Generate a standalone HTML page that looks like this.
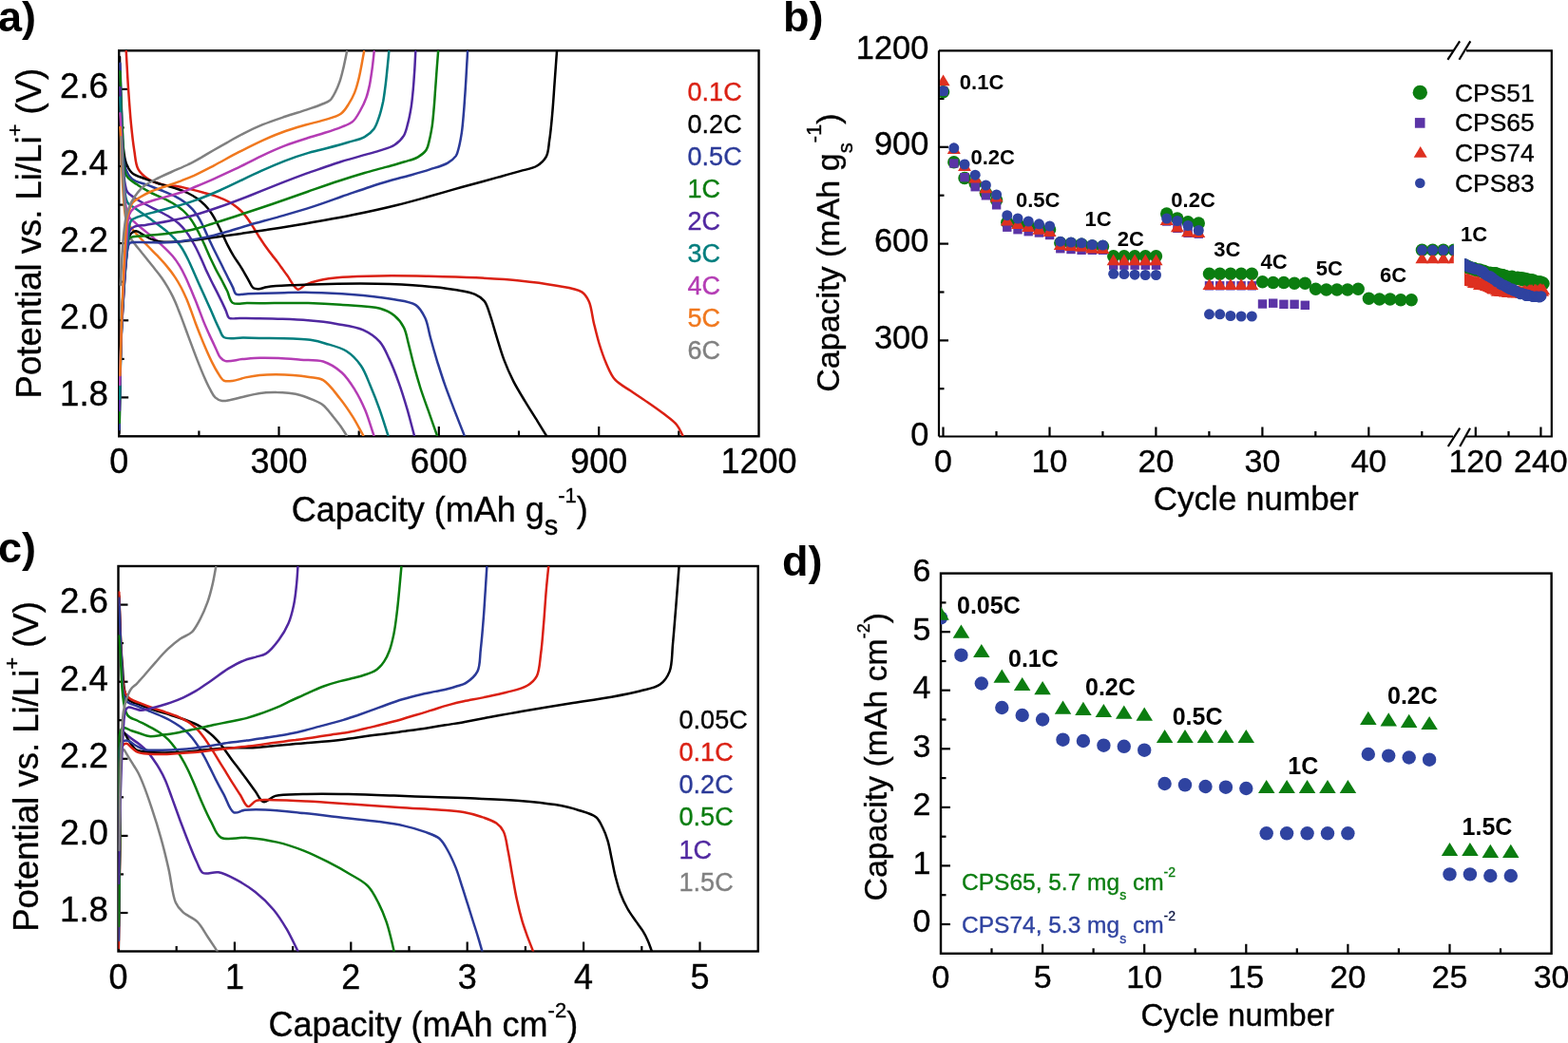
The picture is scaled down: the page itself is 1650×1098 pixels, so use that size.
<!DOCTYPE html><html><head><meta charset="utf-8"><style>html,body{margin:0;padding:0;background:#fff;overflow:hidden}svg{display:block}</style></head><body><svg width="1650" height="1098" viewBox="0 0 1650 1098" style="font-family:'Liberation Sans',Arial,sans-serif">
<rect width="1650" height="1098" fill="#fff"/>
<text x="-2.0" y="32.5" font-size="45" text-anchor="start" font-weight="bold" fill="#000">a)</text>
<text x="824.0" y="32.5" font-size="45" text-anchor="start" font-weight="bold" fill="#000">b)</text>
<text x="-2.0" y="592.0" font-size="45" text-anchor="start" font-weight="bold" fill="#000">c)</text>
<text x="823.0" y="605.5" font-size="45" text-anchor="start" font-weight="bold" fill="#000">d)</text>
<text x="125.2" y="498.0" font-size="36" text-anchor="middle" font-weight="normal" fill="#000" stroke="#000" stroke-width="0.35">0</text>
<line x1="293.5" y1="459.0" x2="293.5" y2="449.0" stroke="#000" stroke-width="2.2"/>
<text x="293.5" y="498.0" font-size="36" text-anchor="middle" font-weight="normal" fill="#000" stroke="#000" stroke-width="0.35">300</text>
<line x1="461.8" y1="459.0" x2="461.8" y2="449.0" stroke="#000" stroke-width="2.2"/>
<text x="461.8" y="498.0" font-size="36" text-anchor="middle" font-weight="normal" fill="#000" stroke="#000" stroke-width="0.35">600</text>
<line x1="630.2" y1="459.0" x2="630.2" y2="449.0" stroke="#000" stroke-width="2.2"/>
<text x="630.2" y="498.0" font-size="36" text-anchor="middle" font-weight="normal" fill="#000" stroke="#000" stroke-width="0.35">900</text>
<text x="798.5" y="498.0" font-size="36" text-anchor="middle" font-weight="normal" fill="#000" stroke="#000" stroke-width="0.35">1200</text>
<line x1="209.4" y1="459.0" x2="209.4" y2="453.5" stroke="#000" stroke-width="2.2"/>
<line x1="377.7" y1="459.0" x2="377.7" y2="453.5" stroke="#000" stroke-width="2.2"/>
<line x1="546.0" y1="459.0" x2="546.0" y2="453.5" stroke="#000" stroke-width="2.2"/>
<line x1="714.3" y1="459.0" x2="714.3" y2="453.5" stroke="#000" stroke-width="2.2"/>
<line x1="125.2" y1="93.9" x2="135.2" y2="93.9" stroke="#000" stroke-width="2.2"/>
<text x="114.0" y="102.7" font-size="36.7" text-anchor="end" font-weight="normal" fill="#000" stroke="#000" stroke-width="0.35">2.6</text>
<line x1="125.2" y1="175.0" x2="135.2" y2="175.0" stroke="#000" stroke-width="2.2"/>
<text x="114.0" y="183.8" font-size="36.7" text-anchor="end" font-weight="normal" fill="#000" stroke="#000" stroke-width="0.35">2.4</text>
<line x1="125.2" y1="256.1" x2="135.2" y2="256.1" stroke="#000" stroke-width="2.2"/>
<text x="114.0" y="264.9" font-size="36.7" text-anchor="end" font-weight="normal" fill="#000" stroke="#000" stroke-width="0.35">2.2</text>
<line x1="125.2" y1="337.3" x2="135.2" y2="337.3" stroke="#000" stroke-width="2.2"/>
<text x="114.0" y="346.1" font-size="36.7" text-anchor="end" font-weight="normal" fill="#000" stroke="#000" stroke-width="0.35">2.0</text>
<line x1="125.2" y1="418.4" x2="135.2" y2="418.4" stroke="#000" stroke-width="2.2"/>
<text x="114.0" y="427.2" font-size="36.7" text-anchor="end" font-weight="normal" fill="#000" stroke="#000" stroke-width="0.35">1.8</text>
<line x1="125.2" y1="134.4" x2="130.7" y2="134.4" stroke="#000" stroke-width="2.2"/>
<line x1="125.2" y1="215.6" x2="130.7" y2="215.6" stroke="#000" stroke-width="2.2"/>
<line x1="125.2" y1="296.7" x2="130.7" y2="296.7" stroke="#000" stroke-width="2.2"/>
<line x1="125.2" y1="377.9" x2="130.7" y2="377.9" stroke="#000" stroke-width="2.2"/>
<text x="124.5" y="1041.0" font-size="36" text-anchor="middle" font-weight="normal" fill="#000" stroke="#000" stroke-width="0.35">0</text>
<line x1="246.9" y1="1001.5" x2="246.9" y2="991.5" stroke="#000" stroke-width="2.2"/>
<text x="246.9" y="1041.0" font-size="36" text-anchor="middle" font-weight="normal" fill="#000" stroke="#000" stroke-width="0.35">1</text>
<line x1="369.3" y1="1001.5" x2="369.3" y2="991.5" stroke="#000" stroke-width="2.2"/>
<text x="369.3" y="1041.0" font-size="36" text-anchor="middle" font-weight="normal" fill="#000" stroke="#000" stroke-width="0.35">2</text>
<line x1="491.7" y1="1001.5" x2="491.7" y2="991.5" stroke="#000" stroke-width="2.2"/>
<text x="491.7" y="1041.0" font-size="36" text-anchor="middle" font-weight="normal" fill="#000" stroke="#000" stroke-width="0.35">3</text>
<line x1="614.1" y1="1001.5" x2="614.1" y2="991.5" stroke="#000" stroke-width="2.2"/>
<text x="614.1" y="1041.0" font-size="36" text-anchor="middle" font-weight="normal" fill="#000" stroke="#000" stroke-width="0.35">4</text>
<line x1="736.5" y1="1001.5" x2="736.5" y2="991.5" stroke="#000" stroke-width="2.2"/>
<text x="736.5" y="1041.0" font-size="36" text-anchor="middle" font-weight="normal" fill="#000" stroke="#000" stroke-width="0.35">5</text>
<line x1="185.7" y1="1001.5" x2="185.7" y2="996.0" stroke="#000" stroke-width="2.2"/>
<line x1="308.1" y1="1001.5" x2="308.1" y2="996.0" stroke="#000" stroke-width="2.2"/>
<line x1="430.5" y1="1001.5" x2="430.5" y2="996.0" stroke="#000" stroke-width="2.2"/>
<line x1="552.9" y1="1001.5" x2="552.9" y2="996.0" stroke="#000" stroke-width="2.2"/>
<line x1="675.3" y1="1001.5" x2="675.3" y2="996.0" stroke="#000" stroke-width="2.2"/>
<line x1="124.5" y1="636.6" x2="134.5" y2="636.6" stroke="#000" stroke-width="2.2"/>
<text x="114.0" y="645.4" font-size="36.7" text-anchor="end" font-weight="normal" fill="#000" stroke="#000" stroke-width="0.35">2.6</text>
<line x1="124.5" y1="717.7" x2="134.5" y2="717.7" stroke="#000" stroke-width="2.2"/>
<text x="114.0" y="726.5" font-size="36.7" text-anchor="end" font-weight="normal" fill="#000" stroke="#000" stroke-width="0.35">2.4</text>
<line x1="124.5" y1="798.8" x2="134.5" y2="798.8" stroke="#000" stroke-width="2.2"/>
<text x="114.0" y="807.5" font-size="36.7" text-anchor="end" font-weight="normal" fill="#000" stroke="#000" stroke-width="0.35">2.2</text>
<line x1="124.5" y1="879.9" x2="134.5" y2="879.9" stroke="#000" stroke-width="2.2"/>
<text x="114.0" y="888.6" font-size="36.7" text-anchor="end" font-weight="normal" fill="#000" stroke="#000" stroke-width="0.35">2.0</text>
<line x1="124.5" y1="961.0" x2="134.5" y2="961.0" stroke="#000" stroke-width="2.2"/>
<text x="114.0" y="969.8" font-size="36.7" text-anchor="end" font-weight="normal" fill="#000" stroke="#000" stroke-width="0.35">1.8</text>
<line x1="124.5" y1="677.1" x2="130.0" y2="677.1" stroke="#000" stroke-width="2.2"/>
<line x1="124.5" y1="758.2" x2="130.0" y2="758.2" stroke="#000" stroke-width="2.2"/>
<line x1="124.5" y1="839.3" x2="130.0" y2="839.3" stroke="#000" stroke-width="2.2"/>
<line x1="124.5" y1="920.4" x2="130.0" y2="920.4" stroke="#000" stroke-width="2.2"/>
<line x1="992.5" y1="459.5" x2="992.5" y2="449.5" stroke="#000" stroke-width="2.2"/>
<text x="992.5" y="497.0" font-size="34" text-anchor="middle" font-weight="normal" fill="#000" stroke="#000" stroke-width="0.35">0</text>
<line x1="1104.5" y1="459.5" x2="1104.5" y2="449.5" stroke="#000" stroke-width="2.2"/>
<text x="1104.5" y="497.0" font-size="34" text-anchor="middle" font-weight="normal" fill="#000" stroke="#000" stroke-width="0.35">10</text>
<line x1="1216.4" y1="459.5" x2="1216.4" y2="449.5" stroke="#000" stroke-width="2.2"/>
<text x="1216.4" y="497.0" font-size="34" text-anchor="middle" font-weight="normal" fill="#000" stroke="#000" stroke-width="0.35">20</text>
<line x1="1328.4" y1="459.5" x2="1328.4" y2="449.5" stroke="#000" stroke-width="2.2"/>
<text x="1328.4" y="497.0" font-size="34" text-anchor="middle" font-weight="normal" fill="#000" stroke="#000" stroke-width="0.35">30</text>
<line x1="1440.3" y1="459.5" x2="1440.3" y2="449.5" stroke="#000" stroke-width="2.2"/>
<text x="1440.3" y="497.0" font-size="34" text-anchor="middle" font-weight="normal" fill="#000" stroke="#000" stroke-width="0.35">40</text>
<line x1="1048.5" y1="459.5" x2="1048.5" y2="454.0" stroke="#000" stroke-width="2.2"/>
<line x1="1160.4" y1="459.5" x2="1160.4" y2="454.0" stroke="#000" stroke-width="2.2"/>
<line x1="1272.4" y1="459.5" x2="1272.4" y2="454.0" stroke="#000" stroke-width="2.2"/>
<line x1="1384.3" y1="459.5" x2="1384.3" y2="454.0" stroke="#000" stroke-width="2.2"/>
<line x1="1496.3" y1="459.5" x2="1496.3" y2="454.0" stroke="#000" stroke-width="2.2"/>
<text x="977.3" y="61.5" font-size="34.4" text-anchor="end" font-weight="normal" fill="#000" stroke="#000" stroke-width="0.35">1200</text>
<line x1="988.0" y1="154.8" x2="998.0" y2="154.8" stroke="#000" stroke-width="2.2"/>
<text x="977.3" y="163.2" font-size="34.4" text-anchor="end" font-weight="normal" fill="#000" stroke="#000" stroke-width="0.35">900</text>
<line x1="988.0" y1="256.6" x2="998.0" y2="256.6" stroke="#000" stroke-width="2.2"/>
<text x="977.3" y="265.0" font-size="34.4" text-anchor="end" font-weight="normal" fill="#000" stroke="#000" stroke-width="0.35">600</text>
<line x1="988.0" y1="358.4" x2="998.0" y2="358.4" stroke="#000" stroke-width="2.2"/>
<text x="977.3" y="366.8" font-size="34.4" text-anchor="end" font-weight="normal" fill="#000" stroke="#000" stroke-width="0.35">300</text>
<text x="977.3" y="468.5" font-size="34.4" text-anchor="end" font-weight="normal" fill="#000" stroke="#000" stroke-width="0.35">0</text>
<line x1="988.0" y1="409.2" x2="993.5" y2="409.2" stroke="#000" stroke-width="2.2"/>
<line x1="988.0" y1="307.5" x2="993.5" y2="307.5" stroke="#000" stroke-width="2.2"/>
<line x1="988.0" y1="205.7" x2="993.5" y2="205.7" stroke="#000" stroke-width="2.2"/>
<line x1="988.0" y1="104.0" x2="993.5" y2="104.0" stroke="#000" stroke-width="2.2"/>
<text x="990.0" y="1039.7" font-size="34" text-anchor="middle" font-weight="normal" fill="#000" stroke="#000" stroke-width="0.35">0</text>
<line x1="1097.1" y1="1003.8" x2="1097.1" y2="993.8" stroke="#000" stroke-width="2.2"/>
<text x="1097.1" y="1039.7" font-size="34" text-anchor="middle" font-weight="normal" fill="#000" stroke="#000" stroke-width="0.35">5</text>
<line x1="1204.2" y1="1003.8" x2="1204.2" y2="993.8" stroke="#000" stroke-width="2.2"/>
<text x="1204.2" y="1039.7" font-size="34" text-anchor="middle" font-weight="normal" fill="#000" stroke="#000" stroke-width="0.35">10</text>
<line x1="1311.3" y1="1003.8" x2="1311.3" y2="993.8" stroke="#000" stroke-width="2.2"/>
<text x="1311.3" y="1039.7" font-size="34" text-anchor="middle" font-weight="normal" fill="#000" stroke="#000" stroke-width="0.35">15</text>
<line x1="1418.4" y1="1003.8" x2="1418.4" y2="993.8" stroke="#000" stroke-width="2.2"/>
<text x="1418.4" y="1039.7" font-size="34" text-anchor="middle" font-weight="normal" fill="#000" stroke="#000" stroke-width="0.35">20</text>
<line x1="1525.5" y1="1003.8" x2="1525.5" y2="993.8" stroke="#000" stroke-width="2.2"/>
<text x="1525.5" y="1039.7" font-size="34" text-anchor="middle" font-weight="normal" fill="#000" stroke="#000" stroke-width="0.35">25</text>
<text x="1632.6" y="1039.7" font-size="34" text-anchor="middle" font-weight="normal" fill="#000" stroke="#000" stroke-width="0.35">30</text>
<line x1="1043.5" y1="1003.8" x2="1043.5" y2="998.3" stroke="#000" stroke-width="2.2"/>
<line x1="1150.6" y1="1003.8" x2="1150.6" y2="998.3" stroke="#000" stroke-width="2.2"/>
<line x1="1257.7" y1="1003.8" x2="1257.7" y2="998.3" stroke="#000" stroke-width="2.2"/>
<line x1="1364.8" y1="1003.8" x2="1364.8" y2="998.3" stroke="#000" stroke-width="2.2"/>
<line x1="1471.9" y1="1003.8" x2="1471.9" y2="998.3" stroke="#000" stroke-width="2.2"/>
<line x1="1579.0" y1="1003.8" x2="1579.0" y2="998.3" stroke="#000" stroke-width="2.2"/>
<text x="979.5" y="611.9" font-size="34" text-anchor="end" font-weight="normal" fill="#000" stroke="#000" stroke-width="0.35">6</text>
<line x1="990.0" y1="665.2" x2="1000.0" y2="665.2" stroke="#000" stroke-width="2.2"/>
<text x="979.5" y="673.5" font-size="34" text-anchor="end" font-weight="normal" fill="#000" stroke="#000" stroke-width="0.35">5</text>
<line x1="990.0" y1="726.7" x2="1000.0" y2="726.7" stroke="#000" stroke-width="2.2"/>
<text x="979.5" y="735.0" font-size="34" text-anchor="end" font-weight="normal" fill="#000" stroke="#000" stroke-width="0.35">4</text>
<line x1="990.0" y1="788.3" x2="1000.0" y2="788.3" stroke="#000" stroke-width="2.2"/>
<text x="979.5" y="796.6" font-size="34" text-anchor="end" font-weight="normal" fill="#000" stroke="#000" stroke-width="0.35">3</text>
<line x1="990.0" y1="849.9" x2="1000.0" y2="849.9" stroke="#000" stroke-width="2.2"/>
<text x="979.5" y="858.2" font-size="34" text-anchor="end" font-weight="normal" fill="#000" stroke="#000" stroke-width="0.35">2</text>
<line x1="990.0" y1="911.4" x2="1000.0" y2="911.4" stroke="#000" stroke-width="2.2"/>
<text x="979.5" y="919.7" font-size="34" text-anchor="end" font-weight="normal" fill="#000" stroke="#000" stroke-width="0.35">1</text>
<line x1="990.0" y1="973.0" x2="1000.0" y2="973.0" stroke="#000" stroke-width="2.2"/>
<text x="979.5" y="981.3" font-size="34" text-anchor="end" font-weight="normal" fill="#000" stroke="#000" stroke-width="0.35">0</text>
<line x1="990.0" y1="634.4" x2="995.5" y2="634.4" stroke="#000" stroke-width="2.2"/>
<line x1="990.0" y1="696.0" x2="995.5" y2="696.0" stroke="#000" stroke-width="2.2"/>
<line x1="990.0" y1="757.5" x2="995.5" y2="757.5" stroke="#000" stroke-width="2.2"/>
<line x1="990.0" y1="819.1" x2="995.5" y2="819.1" stroke="#000" stroke-width="2.2"/>
<line x1="990.0" y1="880.7" x2="995.5" y2="880.7" stroke="#000" stroke-width="2.2"/>
<line x1="990.0" y1="942.2" x2="995.5" y2="942.2" stroke="#000" stroke-width="2.2"/>
<rect x="125.2" y="53.3" width="673.3" height="406.0" fill="none" stroke="#000" stroke-width="2.4"/>
<rect x="124.5" y="596.0" width="673.2" height="405.5" fill="none" stroke="#000" stroke-width="2.4"/>
<rect x="990.0" y="603.6" width="642.6" height="400.2" fill="none" stroke="#000" stroke-width="2.4"/>
<path d="M988,53.3 H1529 M1543,53.3 H1632.8 V459.5 H1543 M1529,459.5 H988 Z" fill="none" stroke="#000" stroke-width="2.2"/>
<path d="M988,53.3 V459.5" stroke="#000" stroke-width="2.2"/>
<line x1="1523.4" y1="62.8" x2="1536.1" y2="43.4" stroke="#000" stroke-width="2.2"/>
<line x1="1535.5" y1="62.8" x2="1547.3" y2="43.4" stroke="#000" stroke-width="2.2"/>
<line x1="1523.8" y1="470.0" x2="1536.2" y2="450.7" stroke="#000" stroke-width="2.2"/>
<line x1="1536.2" y1="470.0" x2="1547.0" y2="450.7" stroke="#000" stroke-width="2.2"/>
<line x1="1552.8" y1="459.5" x2="1552.8" y2="449.5" stroke="#000" stroke-width="2.2"/>
<text x="1552.8" y="497.0" font-size="34" text-anchor="middle" font-weight="normal" fill="#000" stroke="#000" stroke-width="0.35">120</text>
<line x1="1621.4" y1="459.5" x2="1621.4" y2="449.5" stroke="#000" stroke-width="2.2"/>
<text x="1621.4" y="497.0" font-size="34" text-anchor="middle" font-weight="normal" fill="#000" stroke="#000" stroke-width="0.35">240</text>
<line x1="1587.5" y1="459.5" x2="1587.5" y2="454.0" stroke="#000" stroke-width="2.2"/>
<text x="306.7" y="549.0" font-size="36" text-anchor="start" font-weight="normal" fill="#000" stroke="#000" stroke-width="0.35">Capacity (mAh g<tspan dy="14" font-size="29">s</tspan><tspan dy="-34.3" font-size="22">-1</tspan><tspan dy="20.3">)</tspan></text>
<text x="1321.8" y="537.0" font-size="35" text-anchor="middle" font-weight="normal" fill="#000" stroke="#000" stroke-width="0.35">Cycle number</text>
<text x="282.5" y="1090.7" font-size="36" text-anchor="start" font-weight="normal" fill="#000" stroke="#000" stroke-width="0.35">Capacity (mAh cm<tspan dy="-20" font-size="22">-2</tspan><tspan dy="20">)</tspan></text>
<text x="1302.2" y="1080.4" font-size="33" text-anchor="middle" font-weight="normal" fill="#000" stroke="#000" stroke-width="0.35">Cycle number</text>
<text transform="translate(42.8,419.4) rotate(-90)" font-size="36.5" stroke="#000" stroke-width="0.35">Potential vs. Li/Li<tspan dy="-20" font-size="22">+</tspan><tspan dy="20"> (V)</tspan></text>
<text transform="translate(39.6,980.8) rotate(-90)" font-size="36.5" stroke="#000" stroke-width="0.35">Potential vs. Li/Li<tspan dy="-20" font-size="22">+</tspan><tspan dy="20"> (V)</tspan></text>
<text transform="translate(883.3,412.7) rotate(-90)" font-size="34" stroke="#000" stroke-width="0.35">Capacity (mAh g<tspan dy="13.2" font-size="22">s</tspan><tspan dy="-32.8" font-size="22">-1</tspan><tspan dy="19.6">)</tspan></text>
<text transform="translate(933.1,948.4) rotate(-90)" font-size="33.8" stroke="#000" stroke-width="0.35">Capacity (mAh cm<tspan dy="-18" font-size="18">-2</tspan><tspan dy="18">)</tspan></text>
<g fill="none" stroke-width="2.5" stroke-linejoin="round" stroke-linecap="round" clip-path="url(#clipa)">
<clipPath id="clipa"><rect x="125" y="53" width="674" height="406"/></clipPath>
<path d="M132.7,53.1 C133.5,66.3 134.1,79.7 135.0,92.7 C135.9,105.4 136.8,118.6 137.9,130.2 C138.9,140.3 139.9,150.0 141.3,158.5 C142.5,165.6 142.5,172.7 145.3,177.9 C147.7,182.4 151.5,185.6 155.7,188.4 C160.4,191.4 167.3,193.4 172.5,194.7 C176.8,195.7 180.5,195.2 184.7,195.8 C189.3,196.5 194.1,197.7 199.0,198.9 C204.2,200.1 209.8,201.5 214.9,203.0 C219.9,204.3 224.8,205.6 229.3,207.3 C233.4,208.8 237.3,210.5 240.9,212.5 C244.2,214.4 247.3,216.5 250.0,218.7 C252.5,220.7 254.6,222.8 256.6,225.1 C258.5,227.2 260.0,229.4 261.6,231.7 C263.2,233.9 264.6,236.2 266.2,238.7 C267.9,241.5 269.7,244.5 271.7,247.7 C274.0,251.2 276.5,255.2 279.0,258.8 C281.3,262.1 283.9,265.5 286.2,268.4 C288.1,270.9 289.9,273.0 291.6,275.3 C293.2,277.3 294.3,279.0 295.9,281.2 C297.8,283.8 299.8,286.8 302.3,290.1 C305.5,294.4 309.8,304.0 313.5,304.7 C316.1,305.2 318.2,301.3 321.3,299.8 C325.2,298.0 329.9,296.4 335.4,295.2 C342.4,293.5 351.1,292.5 360.3,291.7 C371.8,290.8 385.4,290.6 399.1,290.4 C414.6,290.2 432.0,290.4 448.6,290.7 C465.5,291.1 483.2,291.5 499.9,292.3 C515.8,293.1 532.0,293.9 546.7,295.4 C559.9,296.7 572.6,298.3 584.1,300.5 C594.2,302.4 606.2,303.4 612.2,307.4 C616.2,310.0 617.8,313.1 619.7,317.3 C622.4,323.0 623.0,331.9 624.7,339.2 C626.5,346.5 628.2,353.9 630.3,361.0 C632.5,368.2 634.9,375.6 637.8,382.3 C640.6,388.5 642.9,394.9 647.2,399.7 C651.5,404.6 657.8,407.4 663.4,411.3 C669.3,415.3 675.6,419.4 681.5,423.5 C687.3,427.5 693.1,431.5 698.4,435.6 C703.3,439.4 708.7,443.0 712.1,447.2 C715.0,450.7 716.3,454.7 718.4,458.4" stroke="#DA2013"/>
<path d="M126.0,60.0 C126.4,79.5 126.3,101.6 127.1,118.5 C127.7,131.5 128.4,143.0 129.5,152.7 C130.4,160.0 130.8,166.4 132.7,171.6 C134.2,175.8 135.9,179.3 139.0,182.1 C142.4,185.1 148.2,186.4 153.1,188.4 C158.2,190.4 163.9,192.2 169.1,193.9 C174.2,195.4 179.4,196.5 184.2,198.1 C188.7,199.6 193.1,201.0 197.2,203.0 C201.0,204.8 204.7,207.1 207.9,209.3 C210.8,211.4 213.3,213.6 215.6,215.9 C217.8,218.1 219.6,220.4 221.3,222.8 C223.1,225.2 224.6,227.9 226.1,230.5 C227.6,233.2 229.0,235.9 230.4,238.7 C231.9,241.7 233.3,244.9 234.8,248.1 C236.5,251.7 238.2,255.6 240.1,259.2 C241.9,262.8 243.8,266.3 245.9,269.6 C247.8,272.7 249.9,275.5 251.8,278.4 C253.7,281.4 255.5,284.4 257.2,287.3 C258.9,290.2 260.4,293.1 262.0,295.9 C263.5,298.4 264.6,302.0 266.6,303.3 C268.1,304.3 270.0,304.2 272.0,304.2 C274.6,304.1 277.5,302.7 280.5,302.2 C283.6,301.7 286.6,301.4 290.4,301.1 C295.6,300.7 301.7,300.5 309.0,300.2 C319.2,299.7 332.7,299.2 346.0,298.9 C361.4,298.6 379.5,298.3 396.0,298.7 C412.2,299.0 429.5,299.6 444.2,300.9 C456.7,301.9 468.6,303.2 478.7,305.0 C486.6,306.4 494.3,307.3 499.9,309.9 C504.1,311.8 507.2,313.9 509.9,317.3 C512.9,321.3 514.1,327.3 516.1,332.9 C518.4,339.6 520.3,347.3 522.7,354.8 C525.1,362.7 527.5,371.3 530.5,379.1 C533.4,386.9 536.8,394.4 540.4,401.6 C544.1,408.7 548.3,415.5 552.3,422.2 C556.2,428.7 560.3,435.1 564.2,441.2 C567.8,447.1 571.2,452.7 574.8,458.4" stroke="#000000"/>
<path d="M126.4,66.8 C127.2,88.8 127.7,113.2 128.7,132.8 C129.6,148.7 128.6,166.0 131.6,175.8 C133.4,181.5 135.3,185.2 139.0,188.4 C142.9,191.7 149.6,192.7 154.9,194.7 C160.0,196.7 165.2,198.5 170.1,200.5 C174.8,202.4 179.5,204.2 183.7,206.4 C187.7,208.5 191.6,210.7 194.9,213.2 C197.9,215.5 200.5,218.1 202.9,220.7 C205.1,223.2 206.8,225.8 208.6,228.5 C210.3,231.1 211.6,233.7 213.1,236.7 C214.7,239.9 216.1,243.4 217.8,247.0 C219.6,251.0 221.6,255.5 223.7,259.7 C225.7,263.9 227.9,268.2 229.9,272.3 C231.9,276.2 233.8,280.0 235.6,283.7 C237.4,287.2 239.2,290.8 240.8,294.2 C242.4,297.2 243.9,300.2 245.2,302.9 C246.3,305.3 246.4,308.4 248.4,309.6 C251.0,311.2 256.5,309.3 261.1,309.2 C266.5,309.0 272.5,308.9 278.6,308.7 C285.2,308.5 291.9,308.3 299.3,308.2 C307.9,308.0 317.0,307.7 327.3,307.9 C340.0,308.1 355.7,308.7 369.8,309.9 C383.8,311.0 399.5,312.6 411.8,314.8 C421.4,316.6 431.3,317.0 437.5,321.1 C442.4,324.4 444.9,329.5 447.4,334.8 C450.3,340.9 451.0,348.8 453.1,356.0 C455.2,363.7 457.5,371.8 459.9,379.8 C462.5,388.0 465.1,396.4 468.0,404.7 C471.0,413.3 474.4,421.9 477.7,430.6 C481.2,439.7 485.0,449.2 488.6,458.4" stroke="#2B3A98"/>
<path d="M126.4,75.2 C127.3,97.5 127.8,122.5 129.0,142.2 C130.0,157.9 128.3,175.5 132.7,184.2 C135.3,189.4 140.0,191.2 144.0,194.1 C148.0,197.1 152.5,199.5 156.9,201.8 C161.3,204.2 166.1,206.0 170.5,208.2 C174.8,210.3 179.2,212.4 183.1,214.8 C186.6,217.0 189.9,219.2 192.9,221.9 C195.7,224.4 198.1,227.3 200.4,230.3 C202.7,233.3 204.6,236.8 206.5,240.1 C208.4,243.3 210.0,246.6 211.6,250.0 C213.3,253.4 214.8,256.8 216.4,260.4 C218.1,264.1 219.7,268.2 221.5,272.1 C223.4,276.1 225.4,280.2 227.4,284.1 C229.4,288.0 231.6,291.7 233.6,295.5 C235.5,299.3 237.4,303.0 239.3,306.8 C241.1,310.7 241.5,316.6 244.7,318.7 C248.2,321.1 254.8,319.0 260.2,319.1 C266.1,319.2 272.3,319.3 278.6,319.2 C285.3,319.2 292.1,319.0 299.3,319.0 C307.2,319.0 315.2,318.8 324.2,319.0 C334.7,319.3 346.6,319.9 358.5,320.8 C371.7,321.8 389.8,321.9 400.0,324.8 C406.5,326.7 410.8,328.9 415.0,332.3 C419.1,335.6 422.5,340.0 425.0,344.8 C427.6,349.9 428.3,356.1 430.0,362.3 C431.8,369.3 433.5,377.2 435.6,384.8 C437.7,392.6 440.0,400.6 442.4,408.5 C444.9,416.3 447.7,423.8 450.6,431.9 C453.6,440.5 456.8,449.6 459.9,458.4" stroke="#0A7D0F"/>
<path d="M126.4,91.9 C127.2,114.5 127.6,141.2 128.7,159.6 C129.4,172.4 130.0,184.3 131.3,192.0 C132.1,196.4 132.3,199.5 134.1,202.3 C135.9,205.0 139.3,206.6 142.3,208.7 C145.6,210.9 149.2,213.0 153.0,215.0 C157.1,217.3 161.7,219.4 166.0,221.6 C170.2,223.9 174.7,226.0 178.5,228.5 C182.0,230.7 185.4,232.9 188.3,235.5 C191.1,238.0 193.6,240.9 195.8,243.7 C198.0,246.5 199.8,249.5 201.6,252.5 C203.3,255.4 204.8,258.2 206.4,261.3 C208.1,264.7 209.8,268.3 211.5,272.1 C213.3,276.0 215.1,280.3 216.9,284.4 C218.8,288.4 220.7,292.3 222.6,296.2 C224.5,300.0 226.5,303.7 228.3,307.4 C230.1,311.0 231.9,314.6 233.6,318.1 C235.1,321.3 236.6,324.5 237.9,327.4 C239.0,330.0 239.1,333.3 241.1,334.7 C243.5,336.3 248.2,334.8 252.5,334.9 C258.0,335.0 264.9,335.0 271.7,335.2 C279.6,335.3 288.5,335.4 297.0,335.8 C305.9,336.1 314.9,336.4 324.2,337.3 C333.9,338.1 344.3,339.2 354.1,340.9 C363.6,342.6 374.2,343.7 382.2,347.3 C389.0,350.4 395.1,354.6 399.7,359.8 C404.2,364.9 406.5,371.3 409.6,377.9 C413.2,385.4 416.5,394.2 419.6,402.9 C422.9,412.0 425.9,421.9 428.7,431.3 C431.3,440.4 433.5,449.4 435.9,458.4" stroke="#5028A0"/>
<path d="M126.4,102.4 C127.4,125.6 127.8,151.9 129.4,172.0 C130.6,187.6 130.1,206.2 134.1,213.2 C136.0,216.5 138.9,216.9 141.4,218.7 C143.9,220.5 146.3,222.3 148.9,224.1 C151.6,226.0 154.3,227.9 157.1,229.8 C160.0,231.9 163.0,234.0 166.0,236.2 C169.0,238.5 172.2,240.8 175.1,243.3 C178.0,245.8 181.0,248.2 183.6,251.1 C186.3,254.1 188.8,257.3 191.1,260.8 C193.6,264.6 195.7,268.8 197.8,273.0 C199.9,277.2 201.8,281.7 203.7,286.0 C205.6,290.2 207.3,294.3 209.2,298.5 C211.1,302.7 213.0,306.7 214.9,311.0 C216.9,315.4 219.0,320.1 221.0,324.6 C223.0,329.0 224.9,333.7 226.7,337.8 C228.2,341.2 229.7,344.4 231.2,347.4 C232.6,350.1 232.9,353.4 235.5,355.0 C239.6,357.5 248.8,355.5 256.0,355.6 C264.2,355.8 273.5,355.9 282.2,356.1 C290.9,356.2 300.5,356.3 308.4,356.6 C315.0,356.9 320.7,356.9 326.5,357.8 C332.2,358.7 337.1,359.9 342.8,361.7 C349.6,363.7 358.5,365.8 364.7,369.8 C370.6,373.6 375.6,378.9 379.7,384.8 C384.0,390.9 386.5,398.6 389.7,406.0 C393.0,413.8 396.3,422.1 399.3,430.6 C402.5,439.6 405.4,449.2 408.4,458.4" stroke="#007D7D"/>
<path d="M126.4,119.2 C129.3,155.1 128.7,212.6 135.0,226.9 C136.9,231.2 139.3,231.7 141.6,233.9 C143.9,236.2 146.3,238.1 148.9,240.3 C151.9,242.8 155.4,245.3 158.8,248.1 C162.7,251.4 167.2,255.2 171.1,258.8 C174.7,262.2 178.4,265.7 181.4,269.3 C184.2,272.6 186.5,275.8 188.7,279.4 C190.9,282.9 192.8,286.7 194.6,290.5 C196.6,294.5 198.3,298.7 200.1,302.8 C201.9,307.0 203.6,311.2 205.3,315.3 C207.0,319.4 208.5,323.5 210.1,327.6 C211.6,331.5 213.1,335.6 214.6,339.4 C216.1,343.0 217.6,346.4 219.1,349.8 C220.6,353.0 222.0,356.1 223.5,359.1 C224.9,362.1 226.2,365.1 227.6,368.0 C229.0,370.9 230.0,374.4 231.9,376.4 C233.4,378.2 234.9,379.5 237.4,380.1 C241.4,381.1 249.0,378.7 254.9,378.1 C261.0,377.6 267.1,376.9 273.3,376.8 C279.8,376.6 286.3,376.8 293.1,377.1 C300.6,377.4 308.5,378.1 316.3,378.7 C324.2,379.3 332.7,378.2 340.0,380.5 C347.2,382.8 354.1,387.3 359.7,392.2 C365.3,397.2 369.4,403.9 373.4,410.3 C377.6,417.0 381.1,424.2 384.4,431.9 C387.8,440.2 390.4,449.6 393.4,458.4" stroke="#B43CB4"/>
<path d="M126.4,133.9 C128.7,167.0 128.5,220.5 133.2,233.3 C134.5,236.7 135.8,237.1 137.5,239.2 C139.6,241.8 142.2,244.7 144.9,247.7 C148.0,251.1 151.7,255.0 155.1,258.5 C158.5,262.1 161.9,265.4 165.3,268.9 C168.6,272.4 171.9,275.8 175.0,279.6 C178.2,283.4 181.3,287.4 183.9,291.4 C186.5,295.2 188.7,299.1 190.8,303.0 C192.8,306.9 194.5,310.7 196.2,314.6 C197.9,318.6 199.4,322.7 201.0,326.9 C202.6,331.2 204.1,335.6 205.7,340.0 C207.5,344.7 209.3,349.4 211.2,354.1 C213.1,358.9 215.2,363.9 217.3,368.7 C219.3,373.3 221.4,378.0 223.5,382.1 C225.4,385.9 227.3,389.5 229.4,392.7 C231.3,395.6 232.9,399.2 235.5,400.6 C238.0,401.9 241.3,401.4 244.6,401.0 C248.8,400.6 253.6,398.4 258.3,397.4 C263.1,396.4 268.0,395.5 273.1,395.0 C278.6,394.4 284.4,394.2 290.2,394.2 C296.2,394.2 302.4,394.4 308.4,394.9 C314.2,395.3 320.0,396.0 325.4,396.9 C330.5,397.8 335.3,397.4 340.0,400.1 C346.3,403.7 352.5,413.1 357.9,419.8 C363.0,426.2 367.4,432.8 371.6,439.4 C375.5,445.7 378.6,452.1 382.2,458.4" stroke="#F0781E"/>
<path d="M127.4,144.3 C128.8,168.7 129.7,198.3 131.5,217.4 C132.7,229.8 133.1,240.8 135.8,247.8 C137.4,252.0 139.7,254.0 142.0,257.0 C144.3,260.2 147.0,263.2 149.4,266.3 C151.9,269.3 154.2,272.3 156.6,275.3 C158.9,278.1 161.2,280.8 163.4,283.7 C165.7,286.5 167.9,289.3 170.0,292.3 C172.2,295.4 174.2,298.6 176.2,301.9 C178.2,305.3 180.1,308.7 181.9,312.4 C183.8,316.3 185.6,320.5 187.3,324.9 C189.2,329.5 190.9,334.5 192.8,339.4 C194.6,344.3 196.4,349.2 198.2,354.1 C200.1,359.2 202.0,364.3 203.9,369.4 C205.8,374.5 207.8,379.7 209.8,384.6 C211.7,389.3 213.6,394.0 215.5,398.3 C217.3,402.3 219.0,406.2 221.0,409.7 C222.7,412.8 224.1,416.2 226.4,418.3 C228.5,420.2 231.1,421.5 233.7,422.0 C236.4,422.5 239.3,421.6 242.4,421.1 C246.0,420.4 250.0,419.3 254.0,418.3 C258.3,417.3 263.0,416.0 267.4,415.1 C271.6,414.3 275.9,413.7 279.9,413.3 C283.8,413.0 287.4,412.9 291.3,413.0 C295.4,413.0 299.6,413.3 303.8,413.8 C308.1,414.3 312.7,415.0 316.8,416.2 C320.9,417.3 324.7,418.9 328.6,420.6 C332.5,422.3 336.6,423.8 340.0,426.5 C343.7,429.4 346.7,433.9 349.8,437.6 C352.8,441.3 355.9,445.1 358.5,448.7 C360.8,452.0 362.6,455.2 364.7,458.4" stroke="#808080"/>
<path d="M125.4,456.0 C125.8,432.8 125.8,409.2 126.5,386.5 C127.1,364.7 127.9,344.4 129.4,322.4 C130.9,298.9 132.8,259.2 135.9,249.6 C136.8,247.1 137.4,246.2 138.7,245.1 C139.9,244.1 141.5,243.2 143.2,243.3 C145.5,243.4 148.4,246.0 151.0,247.4 C153.6,248.8 156.1,250.4 158.9,251.6 C161.8,252.7 164.6,253.7 167.8,254.2 C171.4,254.8 175.6,254.8 179.6,254.8 C184.0,254.7 188.8,254.4 193.3,254.0 C197.9,253.6 202.4,252.9 207.0,252.4 C211.5,251.8 216.0,251.2 220.6,250.6 C225.5,249.9 230.2,249.2 235.4,248.5 C241.2,247.7 246.9,246.9 253.6,245.9 C261.7,244.7 270.7,243.4 280.6,241.9 C292.7,240.1 306.9,238.0 321.0,235.5 C336.8,232.8 354.7,229.7 371.0,226.3 C386.8,223.1 403.3,219.5 417.4,216.0 C429.2,213.1 439.8,210.1 449.9,207.3 C458.8,204.8 466.6,202.5 474.9,200.1 C483.2,197.8 491.6,195.5 499.9,193.3 C508.2,191.0 516.7,188.6 524.8,186.4 C532.5,184.3 540.3,182.2 547.3,180.1 C553.5,178.3 560.1,177.7 564.8,174.8 C569.0,172.3 572.5,169.1 574.8,164.9 C577.3,160.1 577.2,153.8 578.2,147.4 C579.4,139.7 580.2,130.9 581.0,121.8 C582.0,111.4 582.7,99.6 583.5,88.4 C584.4,76.9 585.2,65.3 586.0,53.7" stroke="#000000"/>
<path d="M125.6,452.0 C126.0,429.8 126.3,406.3 126.8,385.5 C127.2,367.2 127.5,349.9 128.2,334.0 C128.8,320.1 129.6,307.9 130.8,295.2 C131.9,282.8 133.2,264.2 135.0,258.8 C135.6,257.0 135.7,256.3 136.8,255.6 C138.9,254.3 144.5,255.2 148.5,255.1 C152.7,255.1 157.0,255.3 161.4,255.3 C165.9,255.4 170.5,255.5 175.1,255.3 C179.6,255.2 184.2,254.8 188.8,254.3 C193.3,253.8 197.8,253.1 202.4,252.4 C207.3,251.6 212.0,250.8 217.2,249.6 C223.2,248.3 229.4,246.6 236.1,244.7 C244.1,242.5 252.8,239.6 261.9,237.0 C272.1,234.0 283.6,231.1 294.5,227.9 C305.7,224.7 317.2,221.5 328.2,217.9 C339.0,214.5 349.6,210.5 360.0,206.8 C370.0,203.4 380.2,199.7 389.4,196.7 C397.6,194.0 405.2,191.7 412.6,189.5 C419.5,187.6 426.0,186.1 432.7,184.2 C439.3,182.4 445.9,180.6 452.3,178.4 C458.7,176.3 466.2,174.4 471.0,171.6 C474.7,169.4 477.7,167.1 479.8,164.1 C481.8,161.1 482.2,157.5 483.2,153.8 C484.3,149.4 485.1,144.5 485.9,139.4 C486.7,133.8 487.2,127.7 487.7,121.6 C488.3,115.5 488.7,109.1 489.1,102.9 C489.6,96.8 489.9,90.7 490.3,84.8 C490.6,79.3 490.9,73.8 491.2,68.6 C491.5,63.7 491.8,59.0 492.0,54.2" stroke="#2B3A98"/>
<path d="M125.8,445.0 C126.2,422.1 126.5,397.3 127.0,376.2 C127.5,358.3 127.8,341.5 128.5,326.5 C129.1,314.1 129.8,303.3 130.6,292.7 C131.3,283.3 132.1,273.8 133.0,266.2 C133.6,260.6 133.3,253.9 135.0,251.5 C135.9,250.2 137.0,250.1 138.7,249.6 C141.7,248.8 147.8,248.7 152.3,248.3 C156.9,247.8 161.4,247.4 166.0,246.9 C170.5,246.4 175.1,246.0 179.6,245.4 C184.2,244.9 188.8,244.4 193.3,243.6 C197.8,242.8 201.8,242.0 206.5,240.8 C211.8,239.4 217.2,237.5 223.6,235.5 C231.8,232.9 241.6,229.8 251.5,226.5 C262.7,222.8 275.4,218.6 287.4,214.5 C299.5,210.3 312.1,205.8 323.9,201.7 C335.1,197.8 346.1,193.9 356.5,190.5 C365.9,187.4 374.9,184.6 383.7,182.0 C391.8,179.7 399.7,177.7 407.1,175.6 C413.7,173.8 420.0,172.2 425.8,170.3 C430.8,168.7 435.9,167.6 439.8,165.3 C443.3,163.3 446.6,160.9 448.6,157.8 C450.6,154.8 451.0,150.8 452.0,146.9 C453.1,142.6 453.9,137.8 454.7,132.9 C455.5,127.4 456.0,121.3 456.5,115.4 C457.1,109.3 457.5,102.8 457.9,96.7 C458.4,90.7 458.8,84.5 459.2,78.9 C459.6,73.9 459.9,68.9 460.3,64.5 C460.6,60.8 460.8,57.7 461.1,54.2" stroke="#0A7D0F"/>
<path d="M125.9,432.0 C126.3,412.3 126.5,392.6 127.1,373.0 C127.7,353.6 128.6,333.5 129.8,314.9 C130.9,297.7 132.4,278.8 133.8,265.4 C134.8,256.3 134.5,246.5 136.8,242.4 C138.0,240.3 139.4,239.6 141.4,238.7 C144.3,237.5 149.0,237.5 153.0,236.9 C157.2,236.2 161.6,235.6 166.0,234.8 C170.5,234.1 175.3,233.2 179.6,232.3 C183.8,231.5 187.4,230.9 191.6,229.9 C196.2,228.8 200.6,227.6 206.1,226.0 C213.4,223.9 222.3,220.9 231.2,217.8 C241.4,214.2 253.1,209.7 264.0,205.5 C274.9,201.2 286.5,196.4 296.7,192.4 C305.8,188.8 314.5,185.5 322.4,182.6 C329.0,180.2 334.8,178.4 340.9,176.3 C346.9,174.3 352.6,172.2 358.7,170.3 C365.2,168.3 372.2,166.3 379.0,164.4 C385.8,162.4 393.0,160.7 399.3,158.6 C404.9,156.8 410.5,155.6 414.9,152.8 C418.9,150.3 422.5,146.8 424.9,142.9 C427.3,138.9 428.1,134.0 429.4,129.1 C430.8,123.9 431.8,118.2 432.7,112.6 C433.6,106.8 434.1,100.6 434.7,94.8 C435.2,89.4 435.6,83.9 435.9,78.9 C436.3,74.3 436.5,70.0 436.7,65.8 C436.9,61.8 437.1,58.1 437.3,54.2" stroke="#5028A0"/>
<path d="M126.0,420.0 C126.4,401.2 126.6,382.5 127.3,363.8 C128.0,345.0 128.8,325.8 130.0,307.6 C131.0,290.5 132.5,270.9 133.9,257.6 C134.9,248.6 135.5,239.3 136.8,235.1 C137.4,233.3 137.6,232.4 138.7,231.4 C139.9,230.2 142.2,229.6 144.4,228.7 C147.0,227.6 150.2,226.7 153.5,225.7 C157.3,224.6 161.7,223.5 166.0,222.3 C170.4,221.1 175.2,219.8 179.6,218.6 C183.8,217.4 187.3,216.6 191.6,215.4 C196.6,213.9 201.8,212.2 207.7,210.1 C214.8,207.5 223.6,203.8 231.2,200.5 C238.7,197.2 245.8,193.6 253.0,190.2 C260.3,186.7 267.3,183.3 274.9,179.9 C282.9,176.3 291.7,172.4 299.8,169.3 C307.5,166.3 314.9,163.8 322.4,161.6 C329.6,159.4 336.7,158.0 344.0,156.0 C351.4,154.0 359.5,151.8 366.5,149.7 C372.7,147.9 379.0,146.8 383.7,144.1 C387.7,141.8 391.1,138.9 393.7,135.4 C396.4,131.6 397.7,126.6 399.3,122.0 C400.9,117.1 402.1,111.8 403.2,106.7 C404.2,101.4 404.8,96.0 405.5,90.8 C406.2,85.6 406.7,80.3 407.2,75.5 C407.7,71.0 408.1,66.5 408.5,62.7 C408.8,59.6 409.0,57.1 409.3,54.2" stroke="#007D7D"/>
<path d="M126.2,405.0 C126.6,387.9 126.9,371.0 127.5,353.8 C128.1,336.2 128.9,318.2 129.9,300.8 C130.8,283.9 132.1,264.4 133.3,250.6 C134.1,240.9 133.7,231.6 135.9,226.0 C137.3,222.6 138.9,220.6 141.4,218.7 C144.3,216.4 149.0,215.2 153.0,213.7 C157.2,212.1 161.6,210.9 166.0,209.6 C170.5,208.3 175.3,207.2 179.6,205.9 C183.8,204.7 187.5,203.7 191.6,202.3 C195.8,200.8 199.8,199.0 204.6,197.0 C210.6,194.5 217.8,191.5 225.0,188.3 C232.9,184.8 241.6,180.7 249.9,176.8 C258.3,172.7 266.5,168.2 274.9,164.3 C283.2,160.4 291.7,156.5 299.8,153.4 C307.5,150.4 315.1,148.0 322.4,145.7 C329.1,143.5 335.6,141.8 341.8,139.8 C347.8,137.9 353.8,136.0 359.0,133.8 C363.5,132.0 367.9,130.8 371.2,127.9 C374.7,124.9 376.9,120.2 379.3,116.0 C381.7,111.9 383.8,107.4 385.4,102.9 C387.0,98.5 388.0,93.8 389.0,89.2 C389.9,84.6 390.5,79.9 391.2,75.5 C391.8,71.3 392.3,67.1 392.7,63.3 C393.1,60.1 393.4,57.3 393.7,54.2" stroke="#B43CB4"/>
<path d="M126.4,395.0 C126.9,377.9 127.2,360.7 127.8,343.8 C128.3,327.0 129.1,310.0 129.8,294.0 C130.5,279.1 131.3,262.6 132.0,250.8 C132.5,242.7 132.6,235.5 133.5,230.3 C134.1,227.0 134.8,225.0 135.7,222.3 C136.7,219.4 137.6,215.7 139.6,213.2 C141.6,210.7 145.1,209.1 148.0,207.3 C150.9,205.5 153.8,203.9 156.9,202.5 C160.1,201.0 163.6,199.9 167.1,198.6 C171.0,197.3 175.2,195.9 179.2,194.5 C183.0,193.1 186.6,191.8 190.6,190.3 C194.9,188.6 199.1,187.0 204.1,184.8 C210.3,181.9 217.6,178.1 225.0,174.3 C233.2,170.0 242.4,164.7 251.2,160.2 C259.9,155.8 268.8,151.3 277.4,147.4 C285.4,143.8 293.3,140.5 301.1,137.8 C308.3,135.2 315.5,133.3 322.4,131.3 C328.7,129.5 334.8,128.3 340.9,126.4 C346.9,124.5 354.2,123.0 358.7,119.8 C362.4,117.1 364.5,113.3 366.8,109.6 C369.3,105.9 371.4,101.8 373.1,97.6 C374.8,93.4 376.0,88.9 377.1,84.5 C378.2,80.3 379.0,76.0 379.8,72.0 C380.5,68.4 381.1,64.9 381.7,61.7 C382.2,59.0 382.6,56.7 383.1,54.2" stroke="#F0781E"/>
<path d="M126.8,300.0 C127.3,289.9 127.8,279.4 128.4,269.7 C129.0,260.6 129.7,251.2 130.5,243.6 C131.2,237.5 131.7,232.1 132.9,227.3 C133.8,223.4 134.9,220.2 136.4,216.9 C137.8,213.5 139.7,210.2 141.6,207.3 C143.4,204.6 145.3,201.9 147.3,199.8 C149.1,197.8 150.8,196.4 153.1,194.8 C155.9,192.8 159.4,191.0 163.3,189.0 C168.2,186.4 174.6,183.6 180.4,181.0 C186.3,178.3 192.8,175.8 198.3,173.0 C203.4,170.6 207.9,167.9 212.5,165.4 C216.8,162.9 220.7,160.5 225.0,158.0 C229.5,155.4 234.1,152.8 239.0,150.1 C244.4,147.0 250.1,143.6 256.2,140.6 C262.6,137.3 269.4,134.1 276.4,131.2 C283.9,128.1 292.1,125.4 299.8,122.8 C307.4,120.2 315.5,117.9 322.4,115.6 C328.1,113.6 333.5,111.9 338.1,110.0 C341.7,108.5 345.0,107.7 347.5,105.4 C350.0,103.1 351.5,99.5 353.1,96.4 C354.8,93.2 356.1,89.8 357.3,86.4 C358.6,82.9 359.5,79.1 360.4,75.5 C361.4,71.8 362.2,68.1 362.9,64.5 C363.7,61.1 364.3,57.7 365.0,54.2" stroke="#808080"/>
</g>
<clipPath id="clipc"><rect x="124.5" y="596" width="673" height="405.5"/></clipPath>
<g fill="none" stroke-width="2.5" stroke-linejoin="round" stroke-linecap="round" clip-path="url(#clipc)">
<path d="M125.3,627.6 C126.4,651.0 126.7,677.8 128.6,697.6 C130.0,712.2 129.0,728.5 134.1,735.5 C137.4,739.9 143.1,740.1 147.8,742.1 C152.6,744.1 157.4,745.8 162.6,747.6 C168.0,749.4 174.0,751.0 179.6,752.8 C185.3,754.6 191.4,756.4 196.7,758.5 C201.6,760.4 206.3,762.3 210.4,764.6 C214.1,766.7 217.5,769.1 220.6,771.7 C223.8,774.2 226.6,777.1 229.3,780.1 C232.0,783.1 234.4,786.4 236.8,789.7 C239.2,792.9 241.4,796.4 243.9,799.7 C246.3,803.0 248.8,806.1 251.4,809.5 C254.1,813.1 256.9,816.9 259.8,820.8 C262.8,824.9 265.9,829.5 269.0,833.5 C271.8,837.3 273.9,843.3 277.3,844.1 C280.8,844.9 284.6,839.3 289.8,837.9 C297.2,835.9 307.7,836.3 318.5,836.0 C332.5,835.5 350.5,835.7 366.6,836.0 C382.6,836.3 399.4,837.0 414.7,837.6 C428.7,838.1 441.1,838.6 454.8,839.1 C469.4,839.6 484.7,839.9 499.9,840.6 C515.3,841.2 532.0,841.7 546.7,842.9 C559.9,844.0 572.9,845.2 584.1,847.1 C593.5,848.7 602.1,850.7 609.7,853.2 C616.2,855.2 623.1,856.9 627.2,860.3 C630.6,863.2 632.1,867.1 634.1,871.0 C636.2,875.1 637.9,879.7 639.4,884.7 C641.1,890.2 642.1,896.6 643.4,902.8 C644.8,909.1 645.9,915.8 647.5,922.1 C649.1,928.3 650.6,934.4 652.8,940.2 C654.9,945.9 657.5,951.5 660.3,956.5 C662.9,961.2 666.2,965.5 669.0,969.6 C671.6,973.3 674.4,976.6 676.5,980.2 C678.6,983.6 680.3,987.0 681.8,990.5 C683.4,994.0 684.5,997.8 685.9,1001.4" stroke="#000000"/>
<path d="M125.3,623.4 C126.2,646.6 126.6,673.4 127.9,692.8 C128.8,706.9 128.4,722.2 131.4,729.1 C132.8,732.4 134.4,733.7 136.8,735.5 C139.8,737.7 144.4,739.1 148.5,740.7 C152.6,742.4 157.0,744.0 161.4,745.5 C165.9,747.1 170.6,748.5 175.1,750.1 C179.5,751.6 184.0,753.0 188.1,754.8 C192.0,756.6 195.8,758.4 199.2,760.8 C202.6,763.1 205.5,765.8 208.3,768.7 C211.2,771.7 213.6,775.1 216.1,778.5 C218.6,782.0 220.8,785.6 223.1,789.2 C225.4,792.8 227.6,796.4 229.7,799.9 C231.8,803.3 233.7,806.4 235.9,809.9 C238.3,813.8 240.8,818.0 243.5,822.3 C246.5,827.0 250.0,832.6 253.1,837.3 C255.8,841.5 258.0,848.6 261.1,849.1 C263.7,849.6 266.1,844.1 269.8,842.9 C274.7,841.2 281.4,842.2 288.5,842.2 C298.3,842.3 310.5,842.9 322.9,843.5 C337.3,844.2 353.8,845.5 369.7,846.6 C386.1,847.7 403.7,849.0 419.6,850.0 C434.2,851.0 449.2,851.6 461.5,852.5 C471.4,853.3 480.0,853.6 487.9,855.0 C494.6,856.2 500.3,857.7 506.1,859.7 C511.8,861.6 518.2,863.6 522.3,866.6 C525.7,869.0 527.9,871.5 529.8,875.3 C532.4,880.4 533.1,888.2 534.5,895.3 C536.1,903.1 537.4,911.8 538.9,920.3 C540.5,929.1 542.0,938.6 543.9,947.1 C545.6,955.0 547.5,962.7 549.5,969.6 C551.3,975.6 553.2,980.7 555.1,986.1 C557.0,991.3 559.1,996.3 561.0,1001.4" stroke="#DA2013"/>
<path d="M125.3,629.7 C126.3,652.7 126.7,678.9 128.1,698.6 C129.2,713.3 127.5,730.4 132.3,737.3 C135.0,741.3 139.9,741.4 143.9,743.2 C148.1,745.1 152.5,746.7 156.9,748.5 C161.4,750.3 166.1,752.1 170.5,754.2 C175.0,756.2 179.5,758.5 183.5,761.0 C187.3,763.3 191.0,765.8 194.2,768.5 C197.2,771.0 199.8,773.8 202.2,776.7 C204.6,779.6 206.7,782.8 208.8,786.0 C210.9,789.4 213.0,792.9 214.9,796.5 C216.9,800.1 218.7,803.8 220.6,807.7 C222.7,811.7 224.6,815.9 226.9,820.3 C229.5,825.4 232.4,830.8 235.5,836.3 C238.8,842.4 241.6,853.3 246.1,855.3 C249.4,856.8 253.2,853.3 257.6,852.7 C263.7,852.0 270.9,852.0 279.2,852.4 C290.6,852.8 305.9,854.7 319.8,856.1 C334.4,857.6 350.8,859.7 364.8,861.3 C376.9,862.6 388.1,863.6 398.7,865.0 C408.0,866.3 416.7,867.5 425.0,869.4 C432.6,871.1 440.2,873.2 446.8,875.6 C452.5,877.8 458.2,879.3 462.4,882.8 C466.5,886.3 469.0,891.6 471.8,896.5 C474.7,901.8 477.2,907.5 479.6,913.4 C482.1,919.6 484.0,926.2 486.1,932.8 C488.3,939.3 490.3,946.2 492.4,952.7 C494.4,959.1 496.4,965.5 498.3,971.5 C500.1,977.0 501.8,982.2 503.3,987.4 C504.8,992.2 506.0,996.7 507.4,1001.4" stroke="#2B3A98"/>
<path d="M125.3,669.6 C128.3,697.3 126.7,741.5 134.1,752.8 C136.9,757.0 140.8,756.6 144.4,758.5 C148.2,760.5 152.5,762.5 156.4,764.6 C160.4,766.7 164.5,768.8 168.0,771.2 C171.4,773.5 174.4,776.0 177.1,778.7 C179.8,781.5 182.1,784.5 184.4,787.6 C186.8,790.9 189.0,794.4 191.0,797.9 C193.1,801.4 195.0,804.9 196.9,808.8 C199.2,813.3 201.2,818.0 203.5,823.3 C206.3,829.7 209.3,837.4 212.4,844.5 C215.5,851.6 218.8,859.2 222.4,865.6 C225.5,871.4 227.1,878.6 232.4,881.6 C238.8,885.2 250.9,881.1 260.4,881.9 C270.6,882.7 281.6,884.2 291.7,886.6 C301.4,888.8 310.8,892.1 319.8,895.6 C328.4,899.0 336.6,903.1 344.7,907.2 C352.6,911.2 360.5,915.5 367.8,920.0 C374.6,924.1 382.0,927.4 387.2,932.8 C392.1,937.8 395.2,944.6 398.4,950.9 C401.6,957.1 404.3,963.8 406.5,970.2 C408.6,976.2 410.1,982.5 411.5,988.0 C412.7,992.8 413.6,996.9 414.6,1001.4" stroke="#0A7D0F"/>
<path d="M132.3,772.8 C134.6,774.6 136.9,776.5 139.3,778.3 C141.9,780.2 144.8,781.9 147.3,784.0 C149.9,786.1 152.5,788.3 154.8,790.8 C157.2,793.4 159.3,796.4 161.4,799.5 C163.6,802.6 165.8,805.8 167.8,809.3 C170.0,813.0 172.0,816.9 174.0,821.4 C176.4,826.9 178.5,833.4 181.0,840.1 C183.8,847.7 186.9,856.5 189.9,864.7 C193.0,872.9 196.2,881.5 199.3,889.1 C201.9,895.6 204.4,902.1 207.1,907.5 C209.2,911.8 210.2,917.1 213.6,919.0 C217.5,921.1 224.5,917.3 229.9,918.3 C235.7,919.3 241.4,922.3 247.3,925.4 C254.2,929.0 261.9,933.7 268.6,939.0 C275.5,944.4 282.3,951.0 287.9,957.7 C293.4,964.2 297.7,971.4 302.0,978.6 C306.2,985.9 309.7,993.8 313.5,1001.4" stroke="#5028A0"/>
<path d="M130.5,789.2 C132.3,792.2 134.1,795.2 135.9,798.1 C137.7,800.9 139.5,803.8 141.2,806.5 C142.7,809.0 144.1,811.0 145.5,813.8 C147.3,817.3 148.9,821.1 150.8,825.9 C153.5,832.7 156.7,841.9 159.6,850.7 C162.9,860.5 166.4,871.6 169.3,882.2 C172.3,892.9 174.9,903.6 177.4,914.6 C180.1,926.2 181.3,942.3 184.9,950.2 C187.0,954.9 189.2,957.1 192.4,960.2 C196.3,963.9 203.1,966.0 207.4,970.2 C212.0,974.7 215.3,981.4 218.9,986.7 C222.3,991.8 225.4,996.5 228.6,1001.4" stroke="#808080"/>
<path d="M124.8,1000.0 C125.3,964.1 125.6,929.4 126.2,892.3 C126.8,852.6 123.1,770.8 128.6,769.2 C130.3,768.7 132.7,775.5 135.0,778.7 C137.5,782.2 139.8,787.1 143.2,789.2 C146.4,791.2 150.5,790.9 154.6,791.5 C159.4,792.1 165.0,792.4 170.5,792.5 C176.4,792.6 182.7,792.4 188.8,792.1 C194.8,791.7 200.9,791.1 207.0,790.5 C213.0,789.9 219.1,788.9 225.2,788.4 C231.1,787.9 237.2,787.5 243.0,787.3 C248.5,787.1 253.9,787.4 259.0,787.3 C263.8,787.2 268.3,787.0 272.7,786.7 C277.1,786.4 281.2,785.9 285.5,785.4 C289.7,785.0 294.0,784.6 298.2,784.3 C302.5,783.9 306.7,783.5 311.0,783.1 C315.2,782.8 319.5,782.4 323.7,782.0 C328.0,781.7 332.3,781.3 336.5,781.0 C340.6,780.6 344.6,780.4 348.7,780.0 C352.9,779.5 357.0,779.0 361.4,778.4 C366.3,777.7 371.5,776.9 376.9,776.2 C382.6,775.4 388.7,774.6 394.6,773.8 C400.7,773.0 406.8,772.3 412.9,771.5 C418.9,770.7 425.0,770.0 431.1,769.1 C437.2,768.3 443.1,767.3 449.3,766.4 C455.6,765.4 462.2,764.3 468.6,763.3 C474.7,762.3 480.4,761.5 486.8,760.4 C494.1,759.1 501.2,757.7 509.9,756.1 C521.4,753.9 535.7,751.1 549.8,748.7 C565.5,746.0 583.7,743.1 599.8,740.6 C614.8,738.2 630.3,736.1 643.4,733.7 C654.4,731.7 664.3,729.9 673.4,727.5 C681.2,725.4 689.3,724.5 694.6,720.6 C699.3,717.2 702.3,712.7 704.6,706.9 C707.6,699.1 707.0,687.4 708.1,676.9 C709.2,665.2 710.1,652.7 711.2,639.8 C712.3,625.7 713.5,610.4 714.6,595.7" stroke="#000000"/>
<path d="M124.8,998.0 C125.3,964.0 125.5,930.6 126.2,895.9 C126.8,859.8 122.8,795.6 128.6,785.6 C129.9,783.4 131.6,782.7 133.2,782.8 C135.0,783.0 136.9,785.9 138.9,787.4 C140.9,788.9 142.5,790.9 145.0,791.9 C148.3,793.3 153.0,793.3 157.6,793.7 C163.1,794.1 169.5,794.0 175.8,793.9 C182.5,793.7 189.9,793.2 196.7,792.6 C203.3,792.1 209.7,791.4 216.1,790.7 C222.2,790.0 228.5,789.2 234.3,788.5 C239.7,787.9 245.0,787.2 249.8,786.7 C253.9,786.3 257.5,786.0 261.3,785.6 C265.1,785.2 268.8,784.7 272.7,784.2 C276.9,783.6 281.2,782.9 285.5,782.3 C289.7,781.8 294.0,781.2 298.2,780.7 C302.5,780.1 306.7,779.6 311.0,779.1 C315.2,778.5 319.5,777.9 323.7,777.3 C328.0,776.7 332.3,776.0 336.5,775.3 C340.6,774.7 344.7,774.0 348.7,773.4 C352.6,772.8 356.3,772.4 360.3,771.7 C364.5,771.1 368.8,770.3 373.5,769.4 C378.7,768.3 384.4,766.9 390.1,765.6 C396.0,764.2 402.4,762.6 408.3,761.0 C413.8,759.6 419.2,758.2 424.2,756.7 C428.9,755.4 433.1,754.0 437.4,752.7 C441.6,751.5 445.6,750.3 449.5,749.1 C453.2,747.9 456.5,746.8 460.2,745.7 C464.3,744.4 468.7,743.1 473.1,741.9 C477.9,740.6 482.7,739.4 488.0,738.3 C493.9,737.0 500.0,736.0 506.8,734.6 C514.6,732.9 524.1,731.2 532.3,729.0 C540.1,726.9 549.1,725.3 554.8,721.8 C559.2,719.2 562.4,716.4 564.8,711.9 C567.9,705.8 568.0,696.3 569.2,687.5 C570.6,677.3 571.3,665.5 572.3,654.4 C573.2,643.3 573.9,631.4 574.8,621.0 C575.6,612.0 576.4,604.2 577.3,595.7" stroke="#DA2013"/>
<path d="M124.9,990.0 C125.3,957.7 125.5,926.4 126.0,893.0 C126.4,857.2 120.7,791.7 127.7,781.9 C129.5,779.5 131.8,779.4 134.1,779.7 C136.9,779.9 140.1,783.4 143.2,785.0 C146.2,786.6 148.7,788.4 152.3,789.2 C157.3,790.4 164.5,789.7 170.5,789.7 C176.6,789.6 182.7,789.4 188.8,789.0 C194.8,788.6 200.9,787.9 207.0,787.2 C213.0,786.4 219.1,785.4 225.2,784.4 C231.2,783.5 237.2,782.4 243.0,781.6 C248.5,780.8 253.8,780.2 259.0,779.6 C264.0,778.9 268.7,778.4 273.5,777.6 C278.5,776.9 283.6,776.1 288.7,775.3 C293.9,774.4 299.3,773.6 304.6,772.5 C309.9,771.5 315.3,770.3 320.5,769.0 C325.7,767.8 330.8,766.2 335.7,764.9 C340.2,763.7 344.4,762.6 348.7,761.4 C353.0,760.2 357.1,759.2 361.4,757.9 C366.1,756.5 370.9,754.8 375.7,753.2 C380.8,751.4 386.0,749.5 391.2,747.6 C396.5,745.7 401.7,743.6 407.2,741.7 C412.7,739.7 418.4,737.7 424.2,736.0 C430.2,734.2 436.6,732.6 442.5,731.2 C447.9,729.9 453.4,729.0 458.4,727.9 C462.8,727.0 467.0,726.2 470.9,725.2 C474.5,724.3 477.8,723.3 481.1,722.2 C484.2,721.2 487.0,721.0 490.0,719.1 C494.1,716.6 499.7,712.1 502.4,706.9 C505.5,700.7 504.8,692.0 505.8,683.8 C506.9,674.3 507.8,663.5 508.6,653.2 C509.5,642.6 510.1,631.1 510.8,621.0 C511.4,612.1 511.8,604.2 512.4,595.7" stroke="#2B3A98"/>
<path d="M125.0,975.0 C125.4,943.5 125.7,913.4 126.3,880.4 C126.9,844.1 120.1,772.8 128.6,766.4 C131.2,764.6 135.2,768.3 138.4,769.3 C141.6,770.3 144.7,771.3 147.8,772.3 C150.8,773.2 153.4,774.7 156.9,775.1 C161.2,775.5 166.6,774.3 171.7,773.6 C177.2,772.9 183.0,771.9 188.8,770.9 C194.7,769.8 200.9,768.4 207.0,767.1 C213.0,765.8 219.1,764.3 225.2,763.0 C231.1,761.8 237.2,760.7 243.0,759.5 C248.5,758.3 253.9,757.4 259.0,756.1 C263.8,754.8 268.4,753.3 272.7,751.8 C276.9,750.4 280.9,748.9 284.7,747.4 C288.3,746.0 291.7,744.6 295.1,743.1 C298.3,741.6 301.4,740.0 304.6,738.4 C307.8,736.9 310.9,735.5 314.2,734.0 C317.8,732.3 321.4,730.7 325.4,728.9 C330.1,726.9 335.2,724.5 340.5,722.5 C346.0,720.5 352.1,718.6 357.8,717.1 C363.0,715.6 368.5,714.7 373.2,713.5 C377.3,712.4 381.2,711.4 384.4,710.3 C386.9,709.5 389.0,708.7 390.9,707.9 C392.4,707.2 393.6,706.8 394.9,705.9 C396.3,705.1 397.6,704.1 398.9,702.7 C400.7,701.1 402.6,698.9 404.2,696.4 C406.3,693.2 408.2,689.3 409.8,685.0 C411.7,679.8 413.1,673.6 414.4,667.4 C415.8,660.5 416.7,653.0 417.6,645.6 C418.6,637.8 419.3,629.9 420.1,621.9 C420.9,613.6 421.6,605.0 422.4,596.6" stroke="#0A7D0F"/>
<path d="M125.0,930.0 C125.5,902.2 125.8,873.1 126.5,846.6 C127.2,822.5 128.0,795.9 129.3,777.5 C130.1,765.4 130.1,751.9 132.3,747.3 C133.1,745.7 133.7,745.0 135.0,744.6 C136.8,744.1 140.2,745.7 142.5,746.3 C144.7,746.8 146.5,747.7 148.7,747.8 C151.3,747.8 154.2,746.7 157.1,746.1 C160.3,745.3 163.6,744.5 167.1,743.5 C171.1,742.3 175.4,741.1 179.6,739.6 C184.0,738.0 188.5,736.3 192.9,734.3 C197.2,732.4 201.2,730.3 205.6,727.7 C210.6,724.8 215.8,720.9 221.3,717.2 C227.3,713.1 234.0,707.7 240.2,703.9 C245.8,700.5 251.5,697.4 256.7,695.3 C261.1,693.5 265.2,692.8 269.2,691.6 C272.9,690.4 276.3,690.3 279.8,688.1 C284.5,685.2 289.6,678.8 293.5,673.5 C297.5,668.2 300.9,662.4 303.5,656.3 C306.1,650.2 307.7,643.5 309.1,636.9 C310.6,630.3 311.2,623.5 311.9,616.7 C312.7,609.8 313.0,602.7 313.5,595.7" stroke="#5028A0"/>
<path d="M125.2,895.0 C125.5,876.7 125.8,858.7 126.2,840.1 C126.7,821.1 127.0,798.8 127.8,782.1 C128.3,769.4 128.6,757.1 130.0,748.5 C130.9,742.9 132.0,739.1 133.4,735.0 C134.7,731.5 135.9,728.1 137.8,725.5 C139.4,723.1 141.7,721.9 143.9,719.8 C146.4,717.2 148.9,714.3 151.8,711.0 C155.4,707.0 159.5,701.9 163.6,697.3 C167.8,692.6 172.2,687.4 176.7,683.2 C180.8,679.3 185.0,675.7 189.3,672.7 C193.4,669.9 198.4,668.7 201.9,665.4 C205.5,661.8 207.9,656.7 210.6,651.8 C213.5,646.3 216.2,640.0 218.4,633.9 C220.6,627.9 222.1,621.7 223.6,615.4 C225.1,609.0 226.1,602.3 227.4,595.7" stroke="#808080"/>
</g>
<text x="714.6" y="766.8" font-size="27" text-anchor="start" font-weight="normal" fill="#000000" stroke="#000000" stroke-width="0.35">0.05C</text>
<text x="714.6" y="801.0" font-size="27" text-anchor="start" font-weight="normal" fill="#DA2013" stroke="#DA2013" stroke-width="0.35">0.1C</text>
<text x="714.6" y="835.2" font-size="27" text-anchor="start" font-weight="normal" fill="#2B3A98" stroke="#2B3A98" stroke-width="0.35">0.2C</text>
<text x="714.6" y="869.4" font-size="27" text-anchor="start" font-weight="normal" fill="#0A7D0F" stroke="#0A7D0F" stroke-width="0.35">0.5C</text>
<text x="714.6" y="903.6" font-size="27" text-anchor="start" font-weight="normal" fill="#5028A0" stroke="#5028A0" stroke-width="0.35">1C</text>
<text x="714.6" y="937.8" font-size="27" text-anchor="start" font-weight="normal" fill="#808080" stroke="#808080" stroke-width="0.35">1.5C</text>
<clipPath id="clipb1"><rect x="989" y="54" width="540.8" height="405"/></clipPath>
<clipPath id="clipb2"><rect x="1541" y="54" width="91" height="405"/></clipPath>
<g clip-path="url(#clipb1)">
<circle cx="992.6" cy="96.7" r="6.7" fill="#0B7D10"/>
<circle cx="1003.8" cy="170.8" r="6.7" fill="#0B7D10"/>
<circle cx="1015.0" cy="187.5" r="6.7" fill="#0B7D10"/>
<circle cx="1026.2" cy="193.3" r="6.7" fill="#0B7D10"/>
<circle cx="1037.4" cy="203.3" r="6.7" fill="#0B7D10"/>
<circle cx="1048.6" cy="210.8" r="6.7" fill="#0B7D10"/>
<circle cx="1059.8" cy="234.2" r="6.7" fill="#0B7D10"/>
<circle cx="1071.0" cy="236.0" r="6.7" fill="#0B7D10"/>
<circle cx="1082.2" cy="238.0" r="6.7" fill="#0B7D10"/>
<circle cx="1093.4" cy="240.0" r="6.7" fill="#0B7D10"/>
<circle cx="1104.6" cy="241.7" r="6.7" fill="#0B7D10"/>
<circle cx="1115.8" cy="255.7" r="6.7" fill="#0B7D10"/>
<circle cx="1127.0" cy="256.5" r="6.7" fill="#0B7D10"/>
<circle cx="1138.1" cy="257.3" r="6.7" fill="#0B7D10"/>
<circle cx="1149.3" cy="259.0" r="6.7" fill="#0B7D10"/>
<circle cx="1160.5" cy="259.5" r="6.7" fill="#0B7D10"/>
<circle cx="1171.7" cy="269.7" r="6.7" fill="#0B7D10"/>
<circle cx="1182.9" cy="269.7" r="6.7" fill="#0B7D10"/>
<circle cx="1194.1" cy="269.7" r="6.7" fill="#0B7D10"/>
<circle cx="1205.3" cy="269.7" r="6.7" fill="#0B7D10"/>
<circle cx="1216.5" cy="269.7" r="6.7" fill="#0B7D10"/>
<circle cx="1227.7" cy="225.0" r="6.7" fill="#0B7D10"/>
<circle cx="1238.9" cy="230.0" r="6.7" fill="#0B7D10"/>
<circle cx="1250.1" cy="233.7" r="6.7" fill="#0B7D10"/>
<circle cx="1261.3" cy="235.0" r="6.7" fill="#0B7D10"/>
<circle cx="1272.5" cy="288.3" r="6.7" fill="#0B7D10"/>
<circle cx="1283.7" cy="288.3" r="6.7" fill="#0B7D10"/>
<circle cx="1294.9" cy="288.3" r="6.7" fill="#0B7D10"/>
<circle cx="1306.1" cy="288.3" r="6.7" fill="#0B7D10"/>
<circle cx="1317.3" cy="288.3" r="6.7" fill="#0B7D10"/>
<circle cx="1328.5" cy="296.7" r="6.7" fill="#0B7D10"/>
<circle cx="1339.7" cy="297.5" r="6.7" fill="#0B7D10"/>
<circle cx="1350.9" cy="297.5" r="6.7" fill="#0B7D10"/>
<circle cx="1362.1" cy="298.3" r="6.7" fill="#0B7D10"/>
<circle cx="1373.3" cy="298.3" r="6.7" fill="#0B7D10"/>
<circle cx="1384.5" cy="304.2" r="6.7" fill="#0B7D10"/>
<circle cx="1395.7" cy="305.0" r="6.7" fill="#0B7D10"/>
<circle cx="1406.9" cy="305.0" r="6.7" fill="#0B7D10"/>
<circle cx="1418.0" cy="305.0" r="6.7" fill="#0B7D10"/>
<circle cx="1429.2" cy="304.2" r="6.7" fill="#0B7D10"/>
<circle cx="1440.4" cy="314.2" r="6.7" fill="#0B7D10"/>
<circle cx="1451.6" cy="315.0" r="6.7" fill="#0B7D10"/>
<circle cx="1462.8" cy="315.0" r="6.7" fill="#0B7D10"/>
<circle cx="1474.0" cy="315.8" r="6.7" fill="#0B7D10"/>
<circle cx="1485.2" cy="315.8" r="6.7" fill="#0B7D10"/>
<circle cx="1496.4" cy="263.3" r="6.7" fill="#0B7D10"/>
<circle cx="1507.6" cy="263.3" r="6.7" fill="#0B7D10"/>
<circle cx="1518.8" cy="263.3" r="6.7" fill="#0B7D10"/>
<circle cx="1530.0" cy="263.3" r="6.7" fill="#0B7D10"/>
<rect x="987.9" y="91.3" width="9.4" height="9.4" fill="#5B34A6"/>
<rect x="999.1" y="167.3" width="9.4" height="9.4" fill="#5B34A6"/>
<rect x="1010.3" y="182.0" width="9.4" height="9.4" fill="#5B34A6"/>
<rect x="1021.5" y="192.0" width="9.4" height="9.4" fill="#5B34A6"/>
<rect x="1032.7" y="201.1" width="9.4" height="9.4" fill="#5B34A6"/>
<rect x="1043.9" y="211.1" width="9.4" height="9.4" fill="#5B34A6"/>
<rect x="1055.1" y="234.5" width="9.4" height="9.4" fill="#5B34A6"/>
<rect x="1066.3" y="237.0" width="9.4" height="9.4" fill="#5B34A6"/>
<rect x="1077.5" y="239.0" width="9.4" height="9.4" fill="#5B34A6"/>
<rect x="1088.7" y="240.3" width="9.4" height="9.4" fill="#5B34A6"/>
<rect x="1099.9" y="242.8" width="9.4" height="9.4" fill="#5B34A6"/>
<rect x="1111.1" y="257.0" width="9.4" height="9.4" fill="#5B34A6"/>
<rect x="1122.3" y="257.8" width="9.4" height="9.4" fill="#5B34A6"/>
<rect x="1133.4" y="258.6" width="9.4" height="9.4" fill="#5B34A6"/>
<rect x="1144.6" y="258.6" width="9.4" height="9.4" fill="#5B34A6"/>
<rect x="1155.8" y="258.6" width="9.4" height="9.4" fill="#5B34A6"/>
<rect x="1167.0" y="274.5" width="9.4" height="9.4" fill="#5B34A6"/>
<rect x="1178.2" y="274.5" width="9.4" height="9.4" fill="#5B34A6"/>
<rect x="1189.4" y="274.5" width="9.4" height="9.4" fill="#5B34A6"/>
<rect x="1200.6" y="274.5" width="9.4" height="9.4" fill="#5B34A6"/>
<rect x="1211.8" y="274.5" width="9.4" height="9.4" fill="#5B34A6"/>
<rect x="1223.0" y="228.3" width="9.4" height="9.4" fill="#5B34A6"/>
<rect x="1234.2" y="235.6" width="9.4" height="9.4" fill="#5B34A6"/>
<rect x="1245.4" y="240.6" width="9.4" height="9.4" fill="#5B34A6"/>
<rect x="1256.6" y="241.5" width="9.4" height="9.4" fill="#5B34A6"/>
<rect x="1267.8" y="296.1" width="9.4" height="9.4" fill="#5B34A6"/>
<rect x="1279.0" y="296.1" width="9.4" height="9.4" fill="#5B34A6"/>
<rect x="1290.2" y="296.1" width="9.4" height="9.4" fill="#5B34A6"/>
<rect x="1301.4" y="296.1" width="9.4" height="9.4" fill="#5B34A6"/>
<rect x="1312.6" y="296.1" width="9.4" height="9.4" fill="#5B34A6"/>
<rect x="1323.8" y="315.3" width="9.4" height="9.4" fill="#5B34A6"/>
<rect x="1335.0" y="314.5" width="9.4" height="9.4" fill="#5B34A6"/>
<rect x="1346.2" y="315.6" width="9.4" height="9.4" fill="#5B34A6"/>
<rect x="1357.4" y="315.6" width="9.4" height="9.4" fill="#5B34A6"/>
<rect x="1368.6" y="316.6" width="9.4" height="9.4" fill="#5B34A6"/>
<path d="M992.6,78.5L999.6,90.3L985.6,90.3Z" fill="#DE3020"/>
<path d="M1003.8,150.2L1010.8,162.0L996.8,162.0Z" fill="#DE3020"/>
<path d="M1015.0,168.2L1022.0,180.0L1008.0,180.0Z" fill="#DE3020"/>
<path d="M1026.2,180.7L1033.2,192.5L1019.2,192.5Z" fill="#DE3020"/>
<path d="M1037.4,191.5L1044.4,203.3L1030.4,203.3Z" fill="#DE3020"/>
<path d="M1048.6,200.7L1055.6,212.5L1041.6,212.5Z" fill="#DE3020"/>
<path d="M1059.8,225.8L1066.8,237.6L1052.8,237.6Z" fill="#DE3020"/>
<path d="M1071.0,229.1L1078.0,240.9L1064.0,240.9Z" fill="#DE3020"/>
<path d="M1082.2,232.1L1089.2,243.9L1075.2,243.9Z" fill="#DE3020"/>
<path d="M1093.4,234.9L1100.4,246.7L1086.4,246.7Z" fill="#DE3020"/>
<path d="M1104.6,237.1L1111.6,248.9L1097.6,248.9Z" fill="#DE3020"/>
<path d="M1115.8,251.3L1122.8,263.1L1108.8,263.1Z" fill="#DE3020"/>
<path d="M1127.0,252.1L1134.0,263.9L1120.0,263.9Z" fill="#DE3020"/>
<path d="M1138.1,252.9L1145.1,264.7L1131.1,264.7Z" fill="#DE3020"/>
<path d="M1149.3,254.6L1156.3,266.4L1142.3,266.4Z" fill="#DE3020"/>
<path d="M1160.5,255.1L1167.5,266.9L1153.5,266.9Z" fill="#DE3020"/>
<path d="M1171.7,267.4L1178.7,279.2L1164.7,279.2Z" fill="#DE3020"/>
<path d="M1182.9,267.4L1189.9,279.2L1175.9,279.2Z" fill="#DE3020"/>
<path d="M1194.1,267.4L1201.1,279.2L1187.1,279.2Z" fill="#DE3020"/>
<path d="M1205.3,267.4L1212.3,279.2L1198.3,279.2Z" fill="#DE3020"/>
<path d="M1216.5,267.4L1223.5,279.2L1209.5,279.2Z" fill="#DE3020"/>
<path d="M1227.7,225.1L1234.7,236.9L1220.7,236.9Z" fill="#DE3020"/>
<path d="M1238.9,232.4L1245.9,244.2L1231.9,244.2Z" fill="#DE3020"/>
<path d="M1250.1,237.4L1257.1,249.2L1243.1,249.2Z" fill="#DE3020"/>
<path d="M1261.3,238.3L1268.3,250.1L1254.3,250.1Z" fill="#DE3020"/>
<path d="M1272.5,293.3L1279.5,305.1L1265.5,305.1Z" fill="#DE3020"/>
<path d="M1283.7,293.3L1290.7,305.1L1276.7,305.1Z" fill="#DE3020"/>
<path d="M1294.9,293.3L1301.9,305.1L1287.9,305.1Z" fill="#DE3020"/>
<path d="M1306.1,293.3L1313.1,305.1L1299.1,305.1Z" fill="#DE3020"/>
<path d="M1317.3,293.3L1324.3,305.1L1310.3,305.1Z" fill="#DE3020"/>
<path d="M1496.4,265.5L1503.4,277.3L1489.4,277.3Z" fill="#DE3020"/>
<path d="M1507.6,265.5L1514.6,277.3L1500.6,277.3Z" fill="#DE3020"/>
<path d="M1518.8,265.5L1525.8,277.3L1511.8,277.3Z" fill="#DE3020"/>
<path d="M1530.0,265.5L1537.0,277.3L1523.0,277.3Z" fill="#DE3020"/>
<circle cx="992.6" cy="95.8" r="5.5" fill="#2F43A0"/>
<circle cx="1003.8" cy="155.8" r="5.5" fill="#2F43A0"/>
<circle cx="1015.0" cy="173.0" r="5.5" fill="#2F43A0"/>
<circle cx="1026.2" cy="184.2" r="5.5" fill="#2F43A0"/>
<circle cx="1037.4" cy="195.0" r="5.5" fill="#2F43A0"/>
<circle cx="1048.6" cy="205.0" r="5.5" fill="#2F43A0"/>
<circle cx="1059.8" cy="226.7" r="5.5" fill="#2F43A0"/>
<circle cx="1071.0" cy="230.0" r="5.5" fill="#2F43A0"/>
<circle cx="1082.2" cy="233.0" r="5.5" fill="#2F43A0"/>
<circle cx="1093.4" cy="235.8" r="5.5" fill="#2F43A0"/>
<circle cx="1104.6" cy="238.0" r="5.5" fill="#2F43A0"/>
<circle cx="1115.8" cy="254.2" r="5.5" fill="#2F43A0"/>
<circle cx="1127.0" cy="255.0" r="5.5" fill="#2F43A0"/>
<circle cx="1138.1" cy="255.8" r="5.5" fill="#2F43A0"/>
<circle cx="1149.3" cy="257.5" r="5.5" fill="#2F43A0"/>
<circle cx="1160.5" cy="258.0" r="5.5" fill="#2F43A0"/>
<circle cx="1171.7" cy="288.3" r="5.5" fill="#2F43A0"/>
<circle cx="1182.9" cy="288.6" r="5.5" fill="#2F43A0"/>
<circle cx="1194.1" cy="289.2" r="5.5" fill="#2F43A0"/>
<circle cx="1205.3" cy="289.5" r="5.5" fill="#2F43A0"/>
<circle cx="1216.5" cy="289.5" r="5.5" fill="#2F43A0"/>
<circle cx="1227.7" cy="230.0" r="5.5" fill="#2F43A0"/>
<circle cx="1238.9" cy="232.5" r="5.5" fill="#2F43A0"/>
<circle cx="1250.1" cy="237.5" r="5.5" fill="#2F43A0"/>
<circle cx="1261.3" cy="242.5" r="5.5" fill="#2F43A0"/>
<circle cx="1272.5" cy="330.8" r="5.5" fill="#2F43A0"/>
<circle cx="1283.7" cy="330.8" r="5.5" fill="#2F43A0"/>
<circle cx="1294.9" cy="332.5" r="5.5" fill="#2F43A0"/>
<circle cx="1306.1" cy="333.0" r="5.5" fill="#2F43A0"/>
<circle cx="1317.3" cy="333.0" r="5.5" fill="#2F43A0"/>
<circle cx="1496.4" cy="263.3" r="5.5" fill="#2F43A0"/>
<circle cx="1507.6" cy="263.3" r="5.5" fill="#2F43A0"/>
<circle cx="1518.8" cy="263.3" r="5.5" fill="#2F43A0"/>
<circle cx="1530.0" cy="263.3" r="5.5" fill="#2F43A0"/>
</g><g clip-path="url(#clipb2)">
<circle cx="1536.0" cy="278.5" r="6.7" fill="#0B7D10"/>
<circle cx="1537.0" cy="279.3" r="6.7" fill="#0B7D10"/>
<circle cx="1538.0" cy="279.1" r="6.7" fill="#0B7D10"/>
<circle cx="1539.0" cy="279.8" r="6.7" fill="#0B7D10"/>
<circle cx="1540.0" cy="280.1" r="6.7" fill="#0B7D10"/>
<circle cx="1541.0" cy="279.1" r="6.7" fill="#0B7D10"/>
<circle cx="1542.0" cy="279.3" r="6.7" fill="#0B7D10"/>
<circle cx="1543.0" cy="281.3" r="6.7" fill="#0B7D10"/>
<circle cx="1544.0" cy="280.4" r="6.7" fill="#0B7D10"/>
<circle cx="1545.0" cy="280.7" r="6.7" fill="#0B7D10"/>
<circle cx="1546.0" cy="282.5" r="6.7" fill="#0B7D10"/>
<circle cx="1547.0" cy="281.8" r="6.7" fill="#0B7D10"/>
<circle cx="1548.0" cy="282.8" r="6.7" fill="#0B7D10"/>
<circle cx="1549.0" cy="282.4" r="6.7" fill="#0B7D10"/>
<circle cx="1550.0" cy="283.0" r="6.7" fill="#0B7D10"/>
<circle cx="1551.0" cy="282.4" r="6.7" fill="#0B7D10"/>
<circle cx="1552.0" cy="283.6" r="6.7" fill="#0B7D10"/>
<circle cx="1553.0" cy="284.4" r="6.7" fill="#0B7D10"/>
<circle cx="1554.0" cy="284.0" r="6.7" fill="#0B7D10"/>
<circle cx="1555.0" cy="284.8" r="6.7" fill="#0B7D10"/>
<circle cx="1556.0" cy="284.9" r="6.7" fill="#0B7D10"/>
<circle cx="1557.0" cy="284.0" r="6.7" fill="#0B7D10"/>
<circle cx="1558.0" cy="285.7" r="6.7" fill="#0B7D10"/>
<circle cx="1559.0" cy="285.7" r="6.7" fill="#0B7D10"/>
<circle cx="1560.0" cy="285.4" r="6.7" fill="#0B7D10"/>
<circle cx="1561.0" cy="285.1" r="6.7" fill="#0B7D10"/>
<circle cx="1562.0" cy="286.9" r="6.7" fill="#0B7D10"/>
<circle cx="1563.0" cy="286.3" r="6.7" fill="#0B7D10"/>
<circle cx="1564.0" cy="287.0" r="6.7" fill="#0B7D10"/>
<circle cx="1565.0" cy="287.6" r="6.7" fill="#0B7D10"/>
<circle cx="1566.0" cy="287.4" r="6.7" fill="#0B7D10"/>
<circle cx="1567.0" cy="288.0" r="6.7" fill="#0B7D10"/>
<circle cx="1568.0" cy="287.2" r="6.7" fill="#0B7D10"/>
<circle cx="1569.0" cy="288.2" r="6.7" fill="#0B7D10"/>
<circle cx="1570.0" cy="287.7" r="6.7" fill="#0B7D10"/>
<circle cx="1571.0" cy="288.9" r="6.7" fill="#0B7D10"/>
<circle cx="1572.0" cy="289.0" r="6.7" fill="#0B7D10"/>
<circle cx="1573.0" cy="287.6" r="6.7" fill="#0B7D10"/>
<circle cx="1574.0" cy="287.9" r="6.7" fill="#0B7D10"/>
<circle cx="1575.0" cy="288.2" r="6.7" fill="#0B7D10"/>
<circle cx="1576.0" cy="289.9" r="6.7" fill="#0B7D10"/>
<circle cx="1577.0" cy="289.1" r="6.7" fill="#0B7D10"/>
<circle cx="1578.0" cy="289.7" r="6.7" fill="#0B7D10"/>
<circle cx="1579.0" cy="289.2" r="6.7" fill="#0B7D10"/>
<circle cx="1580.0" cy="289.8" r="6.7" fill="#0B7D10"/>
<circle cx="1581.0" cy="289.7" r="6.7" fill="#0B7D10"/>
<circle cx="1582.0" cy="289.9" r="6.7" fill="#0B7D10"/>
<circle cx="1583.0" cy="290.5" r="6.7" fill="#0B7D10"/>
<circle cx="1584.0" cy="290.7" r="6.7" fill="#0B7D10"/>
<circle cx="1585.0" cy="291.5" r="6.7" fill="#0B7D10"/>
<circle cx="1586.0" cy="291.2" r="6.7" fill="#0B7D10"/>
<circle cx="1587.0" cy="291.9" r="6.7" fill="#0B7D10"/>
<circle cx="1588.0" cy="291.9" r="6.7" fill="#0B7D10"/>
<circle cx="1589.0" cy="292.4" r="6.7" fill="#0B7D10"/>
<circle cx="1590.0" cy="291.9" r="6.7" fill="#0B7D10"/>
<circle cx="1591.0" cy="291.1" r="6.7" fill="#0B7D10"/>
<circle cx="1592.0" cy="292.6" r="6.7" fill="#0B7D10"/>
<circle cx="1593.0" cy="293.0" r="6.7" fill="#0B7D10"/>
<circle cx="1594.0" cy="293.1" r="6.7" fill="#0B7D10"/>
<circle cx="1595.0" cy="292.6" r="6.7" fill="#0B7D10"/>
<circle cx="1596.0" cy="293.0" r="6.7" fill="#0B7D10"/>
<circle cx="1597.0" cy="292.2" r="6.7" fill="#0B7D10"/>
<circle cx="1598.0" cy="293.6" r="6.7" fill="#0B7D10"/>
<circle cx="1599.0" cy="293.3" r="6.7" fill="#0B7D10"/>
<circle cx="1600.0" cy="292.9" r="6.7" fill="#0B7D10"/>
<circle cx="1601.0" cy="292.6" r="6.7" fill="#0B7D10"/>
<circle cx="1602.0" cy="294.4" r="6.7" fill="#0B7D10"/>
<circle cx="1603.0" cy="294.9" r="6.7" fill="#0B7D10"/>
<circle cx="1604.0" cy="293.3" r="6.7" fill="#0B7D10"/>
<circle cx="1605.0" cy="294.9" r="6.7" fill="#0B7D10"/>
<circle cx="1606.0" cy="294.3" r="6.7" fill="#0B7D10"/>
<circle cx="1607.0" cy="294.0" r="6.7" fill="#0B7D10"/>
<circle cx="1608.0" cy="294.5" r="6.7" fill="#0B7D10"/>
<circle cx="1609.0" cy="295.6" r="6.7" fill="#0B7D10"/>
<circle cx="1610.0" cy="296.0" r="6.7" fill="#0B7D10"/>
<circle cx="1611.0" cy="294.6" r="6.7" fill="#0B7D10"/>
<circle cx="1612.0" cy="295.9" r="6.7" fill="#0B7D10"/>
<circle cx="1613.0" cy="295.0" r="6.7" fill="#0B7D10"/>
<circle cx="1614.0" cy="296.5" r="6.7" fill="#0B7D10"/>
<circle cx="1615.0" cy="296.0" r="6.7" fill="#0B7D10"/>
<circle cx="1616.0" cy="297.3" r="6.7" fill="#0B7D10"/>
<circle cx="1617.0" cy="297.7" r="6.7" fill="#0B7D10"/>
<circle cx="1618.0" cy="296.9" r="6.7" fill="#0B7D10"/>
<circle cx="1619.0" cy="298.1" r="6.7" fill="#0B7D10"/>
<circle cx="1620.0" cy="296.9" r="6.7" fill="#0B7D10"/>
<circle cx="1621.0" cy="296.9" r="6.7" fill="#0B7D10"/>
<circle cx="1622.0" cy="298.3" r="6.7" fill="#0B7D10"/>
<circle cx="1623.0" cy="297.6" r="6.7" fill="#0B7D10"/>
<circle cx="1624.0" cy="298.4" r="6.7" fill="#0B7D10"/>
<path d="M1536.0,284.8L1543.0,296.6L1529.0,296.6Z" fill="#DE3020"/>
<path d="M1537.0,285.8L1544.0,297.6L1530.0,297.6Z" fill="#DE3020"/>
<path d="M1538.0,284.7L1545.0,296.5L1531.0,296.5Z" fill="#DE3020"/>
<path d="M1539.0,284.7L1546.0,296.5L1532.0,296.5Z" fill="#DE3020"/>
<path d="M1540.0,287.5L1547.0,299.3L1533.0,299.3Z" fill="#DE3020"/>
<path d="M1541.0,286.1L1548.0,297.9L1534.0,297.9Z" fill="#DE3020"/>
<path d="M1542.0,288.4L1549.0,300.2L1535.0,300.2Z" fill="#DE3020"/>
<path d="M1543.0,288.5L1550.0,300.3L1536.0,300.3Z" fill="#DE3020"/>
<path d="M1544.0,287.3L1551.0,299.1L1537.0,299.1Z" fill="#DE3020"/>
<path d="M1545.0,287.8L1552.0,299.6L1538.0,299.6Z" fill="#DE3020"/>
<path d="M1546.0,288.3L1553.0,300.1L1539.0,300.1Z" fill="#DE3020"/>
<path d="M1547.0,289.0L1554.0,300.8L1540.0,300.8Z" fill="#DE3020"/>
<path d="M1548.0,289.1L1555.0,300.9L1541.0,300.9Z" fill="#DE3020"/>
<path d="M1549.0,289.3L1556.0,301.1L1542.0,301.1Z" fill="#DE3020"/>
<path d="M1550.0,289.8L1557.0,301.6L1543.0,301.6Z" fill="#DE3020"/>
<path d="M1551.0,291.1L1558.0,302.9L1544.0,302.9Z" fill="#DE3020"/>
<path d="M1552.0,290.1L1559.0,301.9L1545.0,301.9Z" fill="#DE3020"/>
<path d="M1553.0,290.2L1560.0,302.0L1546.0,302.0Z" fill="#DE3020"/>
<path d="M1554.0,291.4L1561.0,303.2L1547.0,303.2Z" fill="#DE3020"/>
<path d="M1555.0,290.2L1562.0,302.0L1548.0,302.0Z" fill="#DE3020"/>
<path d="M1556.0,290.7L1563.0,302.5L1549.0,302.5Z" fill="#DE3020"/>
<path d="M1557.0,293.1L1564.0,304.9L1550.0,304.9Z" fill="#DE3020"/>
<path d="M1558.0,292.0L1565.0,303.8L1551.0,303.8Z" fill="#DE3020"/>
<path d="M1559.0,292.4L1566.0,304.2L1552.0,304.2Z" fill="#DE3020"/>
<path d="M1560.0,291.1L1567.0,302.9L1553.0,302.9Z" fill="#DE3020"/>
<path d="M1561.0,292.6L1568.0,304.4L1554.0,304.4Z" fill="#DE3020"/>
<path d="M1562.0,293.4L1569.0,305.2L1555.0,305.2Z" fill="#DE3020"/>
<path d="M1563.0,292.0L1570.0,303.8L1556.0,303.8Z" fill="#DE3020"/>
<path d="M1564.0,294.1L1571.0,305.9L1557.0,305.9Z" fill="#DE3020"/>
<path d="M1565.0,294.5L1572.0,306.3L1558.0,306.3Z" fill="#DE3020"/>
<path d="M1566.0,293.2L1573.0,305.0L1559.0,305.0Z" fill="#DE3020"/>
<path d="M1567.0,295.3L1574.0,307.1L1560.0,307.1Z" fill="#DE3020"/>
<path d="M1568.0,295.2L1575.0,307.0L1561.0,307.0Z" fill="#DE3020"/>
<path d="M1569.0,296.2L1576.0,308.0L1562.0,308.0Z" fill="#DE3020"/>
<path d="M1570.0,295.7L1577.0,307.5L1563.0,307.5Z" fill="#DE3020"/>
<path d="M1571.0,297.1L1578.0,308.9L1564.0,308.9Z" fill="#DE3020"/>
<path d="M1572.0,297.6L1579.0,309.4L1565.0,309.4Z" fill="#DE3020"/>
<path d="M1573.0,295.9L1580.0,307.7L1566.0,307.7Z" fill="#DE3020"/>
<path d="M1574.0,296.4L1581.0,308.2L1567.0,308.2Z" fill="#DE3020"/>
<path d="M1575.0,298.6L1582.0,310.4L1568.0,310.4Z" fill="#DE3020"/>
<path d="M1576.0,299.9L1583.0,311.7L1569.0,311.7Z" fill="#DE3020"/>
<path d="M1577.0,298.2L1584.0,310.0L1570.0,310.0Z" fill="#DE3020"/>
<path d="M1578.0,299.2L1585.0,311.0L1571.0,311.0Z" fill="#DE3020"/>
<path d="M1579.0,300.0L1586.0,311.8L1572.0,311.8Z" fill="#DE3020"/>
<path d="M1580.0,299.6L1587.0,311.4L1573.0,311.4Z" fill="#DE3020"/>
<path d="M1581.0,299.7L1588.0,311.5L1574.0,311.5Z" fill="#DE3020"/>
<path d="M1582.0,299.6L1589.0,311.4L1575.0,311.4Z" fill="#DE3020"/>
<path d="M1583.0,299.9L1590.0,311.7L1576.0,311.7Z" fill="#DE3020"/>
<path d="M1584.0,300.6L1591.0,312.4L1577.0,312.4Z" fill="#DE3020"/>
<path d="M1585.0,299.8L1592.0,311.6L1578.0,311.6Z" fill="#DE3020"/>
<path d="M1586.0,300.0L1593.0,311.8L1579.0,311.8Z" fill="#DE3020"/>
<path d="M1587.0,301.3L1594.0,313.1L1580.0,313.1Z" fill="#DE3020"/>
<path d="M1588.0,299.1L1595.0,310.9L1581.0,310.9Z" fill="#DE3020"/>
<path d="M1589.0,300.8L1596.0,312.6L1582.0,312.6Z" fill="#DE3020"/>
<path d="M1590.0,301.3L1597.0,313.1L1583.0,313.1Z" fill="#DE3020"/>
<path d="M1591.0,300.1L1598.0,311.9L1584.0,311.9Z" fill="#DE3020"/>
<path d="M1592.0,299.9L1599.0,311.7L1585.0,311.7Z" fill="#DE3020"/>
<path d="M1593.0,301.7L1600.0,313.5L1586.0,313.5Z" fill="#DE3020"/>
<path d="M1594.0,300.0L1601.0,311.8L1587.0,311.8Z" fill="#DE3020"/>
<path d="M1595.0,299.9L1602.0,311.7L1588.0,311.7Z" fill="#DE3020"/>
<path d="M1596.0,300.7L1603.0,312.5L1589.0,312.5Z" fill="#DE3020"/>
<path d="M1597.0,301.5L1604.0,313.3L1590.0,313.3Z" fill="#DE3020"/>
<path d="M1598.0,299.8L1605.0,311.6L1591.0,311.6Z" fill="#DE3020"/>
<path d="M1599.0,300.5L1606.0,312.3L1592.0,312.3Z" fill="#DE3020"/>
<path d="M1600.0,300.6L1607.0,312.4L1593.0,312.4Z" fill="#DE3020"/>
<path d="M1601.0,302.0L1608.0,313.8L1594.0,313.8Z" fill="#DE3020"/>
<path d="M1602.0,300.7L1609.0,312.5L1595.0,312.5Z" fill="#DE3020"/>
<path d="M1603.0,301.9L1610.0,313.7L1596.0,313.7Z" fill="#DE3020"/>
<path d="M1604.0,299.7L1611.0,311.5L1597.0,311.5Z" fill="#DE3020"/>
<path d="M1605.0,300.1L1612.0,311.9L1598.0,311.9Z" fill="#DE3020"/>
<path d="M1606.0,301.0L1613.0,312.8L1599.0,312.8Z" fill="#DE3020"/>
<path d="M1607.0,301.6L1614.0,313.4L1600.0,313.4Z" fill="#DE3020"/>
<path d="M1608.0,300.2L1615.0,312.0L1601.0,312.0Z" fill="#DE3020"/>
<path d="M1609.0,299.4L1616.0,311.2L1602.0,311.2Z" fill="#DE3020"/>
<path d="M1610.0,299.0L1617.0,310.8L1603.0,310.8Z" fill="#DE3020"/>
<path d="M1611.0,300.1L1618.0,311.9L1604.0,311.9Z" fill="#DE3020"/>
<path d="M1612.0,299.0L1619.0,310.8L1605.0,310.8Z" fill="#DE3020"/>
<path d="M1613.0,300.7L1620.0,312.5L1606.0,312.5Z" fill="#DE3020"/>
<path d="M1614.0,300.7L1621.0,312.5L1607.0,312.5Z" fill="#DE3020"/>
<path d="M1615.0,298.7L1622.0,310.5L1608.0,310.5Z" fill="#DE3020"/>
<path d="M1616.0,298.8L1623.0,310.6L1609.0,310.6Z" fill="#DE3020"/>
<path d="M1617.0,300.3L1624.0,312.1L1610.0,312.1Z" fill="#DE3020"/>
<path d="M1618.0,299.7L1625.0,311.5L1611.0,311.5Z" fill="#DE3020"/>
<path d="M1619.0,300.1L1626.0,311.9L1612.0,311.9Z" fill="#DE3020"/>
<path d="M1620.0,298.6L1627.0,310.4L1613.0,310.4Z" fill="#DE3020"/>
<path d="M1621.0,298.0L1628.0,309.8L1614.0,309.8Z" fill="#DE3020"/>
<path d="M1622.0,298.5L1629.0,310.3L1615.0,310.3Z" fill="#DE3020"/>
<path d="M1623.0,300.0L1630.0,311.8L1616.0,311.8Z" fill="#DE3020"/>
<path d="M1624.0,298.4L1631.0,310.2L1617.0,310.2Z" fill="#DE3020"/>
<circle cx="1536.0" cy="276.2" r="5.5" fill="#2F43A0"/>
<circle cx="1537.0" cy="276.7" r="5.5" fill="#2F43A0"/>
<circle cx="1538.0" cy="277.1" r="5.5" fill="#2F43A0"/>
<circle cx="1539.0" cy="277.5" r="5.5" fill="#2F43A0"/>
<circle cx="1540.0" cy="278.9" r="5.5" fill="#2F43A0"/>
<circle cx="1541.0" cy="277.7" r="5.5" fill="#2F43A0"/>
<circle cx="1542.0" cy="277.8" r="5.5" fill="#2F43A0"/>
<circle cx="1543.0" cy="280.1" r="5.5" fill="#2F43A0"/>
<circle cx="1544.0" cy="280.4" r="5.5" fill="#2F43A0"/>
<circle cx="1545.0" cy="281.0" r="5.5" fill="#2F43A0"/>
<circle cx="1546.0" cy="280.3" r="5.5" fill="#2F43A0"/>
<circle cx="1547.0" cy="281.7" r="5.5" fill="#2F43A0"/>
<circle cx="1548.0" cy="282.1" r="5.5" fill="#2F43A0"/>
<circle cx="1549.0" cy="281.1" r="5.5" fill="#2F43A0"/>
<circle cx="1550.0" cy="282.5" r="5.5" fill="#2F43A0"/>
<circle cx="1551.0" cy="283.1" r="5.5" fill="#2F43A0"/>
<circle cx="1552.0" cy="283.2" r="5.5" fill="#2F43A0"/>
<circle cx="1553.0" cy="283.3" r="5.5" fill="#2F43A0"/>
<circle cx="1554.0" cy="283.2" r="5.5" fill="#2F43A0"/>
<circle cx="1555.0" cy="283.8" r="5.5" fill="#2F43A0"/>
<circle cx="1556.0" cy="283.9" r="5.5" fill="#2F43A0"/>
<circle cx="1557.0" cy="284.0" r="5.5" fill="#2F43A0"/>
<circle cx="1558.0" cy="285.5" r="5.5" fill="#2F43A0"/>
<circle cx="1559.0" cy="285.3" r="5.5" fill="#2F43A0"/>
<circle cx="1560.0" cy="286.7" r="5.5" fill="#2F43A0"/>
<circle cx="1561.0" cy="285.8" r="5.5" fill="#2F43A0"/>
<circle cx="1562.0" cy="288.2" r="5.5" fill="#2F43A0"/>
<circle cx="1563.0" cy="288.5" r="5.5" fill="#2F43A0"/>
<circle cx="1564.0" cy="289.6" r="5.5" fill="#2F43A0"/>
<circle cx="1565.0" cy="290.2" r="5.5" fill="#2F43A0"/>
<circle cx="1566.0" cy="290.8" r="5.5" fill="#2F43A0"/>
<circle cx="1567.0" cy="290.8" r="5.5" fill="#2F43A0"/>
<circle cx="1568.0" cy="290.4" r="5.5" fill="#2F43A0"/>
<circle cx="1569.0" cy="292.5" r="5.5" fill="#2F43A0"/>
<circle cx="1570.0" cy="292.0" r="5.5" fill="#2F43A0"/>
<circle cx="1571.0" cy="292.9" r="5.5" fill="#2F43A0"/>
<circle cx="1572.0" cy="294.3" r="5.5" fill="#2F43A0"/>
<circle cx="1573.0" cy="294.7" r="5.5" fill="#2F43A0"/>
<circle cx="1574.0" cy="295.1" r="5.5" fill="#2F43A0"/>
<circle cx="1575.0" cy="296.8" r="5.5" fill="#2F43A0"/>
<circle cx="1576.0" cy="296.8" r="5.5" fill="#2F43A0"/>
<circle cx="1577.0" cy="296.9" r="5.5" fill="#2F43A0"/>
<circle cx="1578.0" cy="297.4" r="5.5" fill="#2F43A0"/>
<circle cx="1579.0" cy="299.3" r="5.5" fill="#2F43A0"/>
<circle cx="1580.0" cy="299.2" r="5.5" fill="#2F43A0"/>
<circle cx="1581.0" cy="300.3" r="5.5" fill="#2F43A0"/>
<circle cx="1582.0" cy="299.9" r="5.5" fill="#2F43A0"/>
<circle cx="1583.0" cy="300.1" r="5.5" fill="#2F43A0"/>
<circle cx="1584.0" cy="301.3" r="5.5" fill="#2F43A0"/>
<circle cx="1585.0" cy="302.3" r="5.5" fill="#2F43A0"/>
<circle cx="1586.0" cy="301.5" r="5.5" fill="#2F43A0"/>
<circle cx="1587.0" cy="303.3" r="5.5" fill="#2F43A0"/>
<circle cx="1588.0" cy="304.0" r="5.5" fill="#2F43A0"/>
<circle cx="1589.0" cy="304.3" r="5.5" fill="#2F43A0"/>
<circle cx="1590.0" cy="304.8" r="5.5" fill="#2F43A0"/>
<circle cx="1591.0" cy="303.7" r="5.5" fill="#2F43A0"/>
<circle cx="1592.0" cy="305.5" r="5.5" fill="#2F43A0"/>
<circle cx="1593.0" cy="306.4" r="5.5" fill="#2F43A0"/>
<circle cx="1594.0" cy="305.3" r="5.5" fill="#2F43A0"/>
<circle cx="1595.0" cy="306.2" r="5.5" fill="#2F43A0"/>
<circle cx="1596.0" cy="306.7" r="5.5" fill="#2F43A0"/>
<circle cx="1597.0" cy="307.8" r="5.5" fill="#2F43A0"/>
<circle cx="1598.0" cy="308.0" r="5.5" fill="#2F43A0"/>
<circle cx="1599.0" cy="308.6" r="5.5" fill="#2F43A0"/>
<circle cx="1600.0" cy="309.8" r="5.5" fill="#2F43A0"/>
<circle cx="1601.0" cy="308.4" r="5.5" fill="#2F43A0"/>
<circle cx="1602.0" cy="308.8" r="5.5" fill="#2F43A0"/>
<circle cx="1603.0" cy="309.2" r="5.5" fill="#2F43A0"/>
<circle cx="1604.0" cy="309.4" r="5.5" fill="#2F43A0"/>
<circle cx="1605.0" cy="309.5" r="5.5" fill="#2F43A0"/>
<circle cx="1606.0" cy="311.5" r="5.5" fill="#2F43A0"/>
<circle cx="1607.0" cy="311.5" r="5.5" fill="#2F43A0"/>
<circle cx="1608.0" cy="310.2" r="5.5" fill="#2F43A0"/>
<circle cx="1609.0" cy="311.3" r="5.5" fill="#2F43A0"/>
<circle cx="1610.0" cy="311.2" r="5.5" fill="#2F43A0"/>
<circle cx="1611.0" cy="311.4" r="5.5" fill="#2F43A0"/>
<circle cx="1612.0" cy="311.7" r="5.5" fill="#2F43A0"/>
<circle cx="1613.0" cy="312.5" r="5.5" fill="#2F43A0"/>
<circle cx="1614.0" cy="312.6" r="5.5" fill="#2F43A0"/>
<circle cx="1615.0" cy="312.4" r="5.5" fill="#2F43A0"/>
<circle cx="1616.0" cy="312.1" r="5.5" fill="#2F43A0"/>
<circle cx="1617.0" cy="312.3" r="5.5" fill="#2F43A0"/>
<circle cx="1618.0" cy="311.9" r="5.5" fill="#2F43A0"/>
<circle cx="1619.0" cy="312.7" r="5.5" fill="#2F43A0"/>
<circle cx="1620.0" cy="313.0" r="5.5" fill="#2F43A0"/>
<circle cx="1621.0" cy="312.3" r="5.5" fill="#2F43A0"/>
<circle cx="1622.0" cy="311.7" r="5.5" fill="#2F43A0"/>
</g>
<clipPath id="clipd"><rect x="990" y="604" width="642" height="399"/></clipPath><g clip-path="url(#clipd)">
<circle cx="990.0" cy="650.4" r="7.2" fill="#2F43A0"/>
<circle cx="1011.4" cy="689.7" r="7.2" fill="#2F43A0"/>
<circle cx="1032.8" cy="719.5" r="7.2" fill="#2F43A0"/>
<circle cx="1054.3" cy="745.0" r="7.2" fill="#2F43A0"/>
<circle cx="1075.7" cy="753.0" r="7.2" fill="#2F43A0"/>
<circle cx="1097.1" cy="757.5" r="7.2" fill="#2F43A0"/>
<circle cx="1118.5" cy="778.7" r="7.2" fill="#2F43A0"/>
<circle cx="1139.9" cy="780.0" r="7.2" fill="#2F43A0"/>
<circle cx="1161.4" cy="784.7" r="7.2" fill="#2F43A0"/>
<circle cx="1182.8" cy="785.8" r="7.2" fill="#2F43A0"/>
<circle cx="1204.2" cy="789.7" r="7.2" fill="#2F43A0"/>
<circle cx="1225.6" cy="825.0" r="7.2" fill="#2F43A0"/>
<circle cx="1247.0" cy="826.3" r="7.2" fill="#2F43A0"/>
<circle cx="1268.5" cy="828.0" r="7.2" fill="#2F43A0"/>
<circle cx="1289.9" cy="828.7" r="7.2" fill="#2F43A0"/>
<circle cx="1311.3" cy="830.0" r="7.2" fill="#2F43A0"/>
<circle cx="1332.7" cy="877.3" r="7.2" fill="#2F43A0"/>
<circle cx="1354.1" cy="877.3" r="7.2" fill="#2F43A0"/>
<circle cx="1375.6" cy="877.3" r="7.2" fill="#2F43A0"/>
<circle cx="1397.0" cy="877.3" r="7.2" fill="#2F43A0"/>
<circle cx="1418.4" cy="877.3" r="7.2" fill="#2F43A0"/>
<circle cx="1439.8" cy="794.0" r="7.2" fill="#2F43A0"/>
<circle cx="1461.2" cy="795.6" r="7.2" fill="#2F43A0"/>
<circle cx="1482.7" cy="797.5" r="7.2" fill="#2F43A0"/>
<circle cx="1504.1" cy="799.7" r="7.2" fill="#2F43A0"/>
<circle cx="1525.5" cy="920.4" r="7.2" fill="#2F43A0"/>
<circle cx="1546.9" cy="920.4" r="7.2" fill="#2F43A0"/>
<circle cx="1568.3" cy="922.0" r="7.2" fill="#2F43A0"/>
<circle cx="1589.8" cy="922.0" r="7.2" fill="#2F43A0"/>
<path d="M990.0,638.6L998.8,652.8L981.2,652.8Z" fill="#0B7D10"/>
<path d="M1011.4,657.6L1020.2,671.8L1002.7,671.8Z" fill="#0B7D10"/>
<path d="M1032.8,677.9L1041.6,692.1L1024.1,692.1Z" fill="#0B7D10"/>
<path d="M1054.3,704.6L1063.0,718.8L1045.5,718.8Z" fill="#0B7D10"/>
<path d="M1075.7,712.9L1084.4,727.1L1066.9,727.1Z" fill="#0B7D10"/>
<path d="M1097.1,717.1L1105.8,731.3L1088.3,731.3Z" fill="#0B7D10"/>
<path d="M1118.5,737.6L1127.3,751.8L1109.8,751.8Z" fill="#0B7D10"/>
<path d="M1139.9,738.7L1148.7,752.9L1131.2,752.9Z" fill="#0B7D10"/>
<path d="M1161.4,740.9L1170.1,755.1L1152.6,755.1Z" fill="#0B7D10"/>
<path d="M1182.8,742.6L1191.5,756.8L1174.0,756.8Z" fill="#0B7D10"/>
<path d="M1204.2,744.6L1213.0,758.8L1195.5,758.8Z" fill="#0B7D10"/>
<path d="M1225.6,767.9L1234.4,782.1L1216.9,782.1Z" fill="#0B7D10"/>
<path d="M1247.0,767.9L1255.8,782.1L1238.3,782.1Z" fill="#0B7D10"/>
<path d="M1268.5,767.9L1277.2,782.1L1259.7,782.1Z" fill="#0B7D10"/>
<path d="M1289.9,767.9L1298.6,782.1L1281.1,782.1Z" fill="#0B7D10"/>
<path d="M1311.3,767.9L1320.0,782.1L1302.5,782.1Z" fill="#0B7D10"/>
<path d="M1332.7,820.9L1341.5,835.1L1324.0,835.1Z" fill="#0B7D10"/>
<path d="M1354.1,820.9L1362.9,835.1L1345.4,835.1Z" fill="#0B7D10"/>
<path d="M1375.6,820.9L1384.3,835.1L1366.8,835.1Z" fill="#0B7D10"/>
<path d="M1397.0,820.9L1405.7,835.1L1388.2,835.1Z" fill="#0B7D10"/>
<path d="M1418.4,820.9L1427.2,835.1L1409.7,835.1Z" fill="#0B7D10"/>
<path d="M1439.8,748.7L1448.6,762.9L1431.1,762.9Z" fill="#0B7D10"/>
<path d="M1461.2,750.3L1470.0,764.5L1452.5,764.5Z" fill="#0B7D10"/>
<path d="M1482.7,751.7L1491.4,765.9L1473.9,765.9Z" fill="#0B7D10"/>
<path d="M1504.1,753.9L1512.8,768.1L1495.3,768.1Z" fill="#0B7D10"/>
<path d="M1525.5,886.9L1534.2,901.1L1516.8,901.1Z" fill="#0B7D10"/>
<path d="M1546.9,886.9L1555.7,901.1L1538.2,901.1Z" fill="#0B7D10"/>
<path d="M1568.3,888.8L1577.1,903.0L1559.6,903.0Z" fill="#0B7D10"/>
<path d="M1589.8,888.8L1598.5,903.0L1581.0,903.0Z" fill="#0B7D10"/>
</g>
<circle cx="1494.3" cy="97.4" r="7.7" fill="#0B7D10"/>
<rect x="1488.9" y="124.1" width="10.6" height="10.6" fill="#5B34A6"/>
<path d="M1494.7,154.0L1501.7,165.8L1487.7,165.8Z" fill="#DE3020"/>
<circle cx="1494.3" cy="192.7" r="5.3" fill="#2F43A0"/>
<text x="1531.0" y="106.6" font-size="26.4" text-anchor="start" font-weight="normal" fill="#000" stroke="#000" stroke-width="0.35">CPS51</text>
<text x="1531.0" y="138.2" font-size="26.4" text-anchor="start" font-weight="normal" fill="#000" stroke="#000" stroke-width="0.35">CPS65</text>
<text x="1531.0" y="170.2" font-size="26.4" text-anchor="start" font-weight="normal" fill="#000" stroke="#000" stroke-width="0.35">CPS74</text>
<text x="1531.0" y="201.9" font-size="26.4" text-anchor="start" font-weight="normal" fill="#000" stroke="#000" stroke-width="0.35">CPS83</text>
<text x="1009.8" y="94.2" font-size="22" text-anchor="start" font-weight="bold" fill="#000">0.1C</text>
<text x="1021.5" y="173.3" font-size="22" text-anchor="start" font-weight="bold" fill="#000">0.2C</text>
<text x="1069.0" y="217.5" font-size="22" text-anchor="start" font-weight="bold" fill="#000">0.5C</text>
<text x="1141.5" y="238.3" font-size="22" text-anchor="start" font-weight="bold" fill="#000">1C</text>
<text x="1175.7" y="259.2" font-size="22" text-anchor="start" font-weight="bold" fill="#000">2C</text>
<text x="1232.3" y="217.5" font-size="22" text-anchor="start" font-weight="bold" fill="#000">0.2C</text>
<text x="1277.2" y="270.0" font-size="22" text-anchor="start" font-weight="bold" fill="#000">3C</text>
<text x="1326.5" y="282.5" font-size="22" text-anchor="start" font-weight="bold" fill="#000">4C</text>
<text x="1384.8" y="290.0" font-size="22" text-anchor="start" font-weight="bold" fill="#000">5C</text>
<text x="1452.0" y="297.0" font-size="22" text-anchor="start" font-weight="bold" fill="#000">6C</text>
<text x="1536.9" y="253.6" font-size="22" text-anchor="start" font-weight="bold" fill="#000">1C</text>
<text x="1007.0" y="645.8" font-size="25" text-anchor="start" font-weight="bold" fill="#000">0.05C</text>
<text x="1061.0" y="702.2" font-size="25" text-anchor="start" font-weight="bold" fill="#000">0.1C</text>
<text x="1142.0" y="732.0" font-size="25" text-anchor="start" font-weight="bold" fill="#000">0.2C</text>
<text x="1233.7" y="763.0" font-size="25" text-anchor="start" font-weight="bold" fill="#000">0.5C</text>
<text x="1355.3" y="815.3" font-size="25" text-anchor="start" font-weight="bold" fill="#000">1C</text>
<text x="1460.0" y="740.5" font-size="25" text-anchor="start" font-weight="bold" fill="#000">0.2C</text>
<text x="1538.6" y="878.8" font-size="25" text-anchor="start" font-weight="bold" fill="#000">1.5C</text>
<text x="1012.0" y="936.8" font-size="24.5" text-anchor="start" font-weight="normal" fill="#0B7D10" stroke="#0B7D10" stroke-width="0.35">CPS65, 5.7 mg<tspan dy="10.4" font-size="14">s</tspan><tspan dy="-10.4"> cm</tspan><tspan dy="-13.6" font-size="14">-2</tspan></text>
<text x="1012.0" y="982.3" font-size="24.5" text-anchor="start" font-weight="normal" fill="#2F43A0" stroke="#2F43A0" stroke-width="0.35">CPS74, 5.3 mg<tspan dy="10.4" font-size="14">s</tspan><tspan dy="-10.4"> cm</tspan><tspan dy="-13.6" font-size="14" fill="#000">-2</tspan></text>
<text x="723.6" y="105.6" font-size="27" text-anchor="start" font-weight="normal" fill="#DA2013" stroke="#DA2013" stroke-width="0.35">0.1C</text>
<text x="723.6" y="139.7" font-size="27" text-anchor="start" font-weight="normal" fill="#000000" stroke="#000000" stroke-width="0.35">0.2C</text>
<text x="723.6" y="173.8" font-size="27" text-anchor="start" font-weight="normal" fill="#2B3A98" stroke="#2B3A98" stroke-width="0.35">0.5C</text>
<text x="723.6" y="207.9" font-size="27" text-anchor="start" font-weight="normal" fill="#0A7D0F" stroke="#0A7D0F" stroke-width="0.35">1C</text>
<text x="723.6" y="242.0" font-size="27" text-anchor="start" font-weight="normal" fill="#5028A0" stroke="#5028A0" stroke-width="0.35">2C</text>
<text x="723.6" y="276.1" font-size="27" text-anchor="start" font-weight="normal" fill="#007D7D" stroke="#007D7D" stroke-width="0.35">3C</text>
<text x="723.6" y="310.2" font-size="27" text-anchor="start" font-weight="normal" fill="#B43CB4" stroke="#B43CB4" stroke-width="0.35">4C</text>
<text x="723.6" y="344.3" font-size="27" text-anchor="start" font-weight="normal" fill="#F0781E" stroke="#F0781E" stroke-width="0.35">5C</text>
<text x="723.6" y="378.4" font-size="27" text-anchor="start" font-weight="normal" fill="#808080" stroke="#808080" stroke-width="0.35">6C</text>
</svg></body></html>
